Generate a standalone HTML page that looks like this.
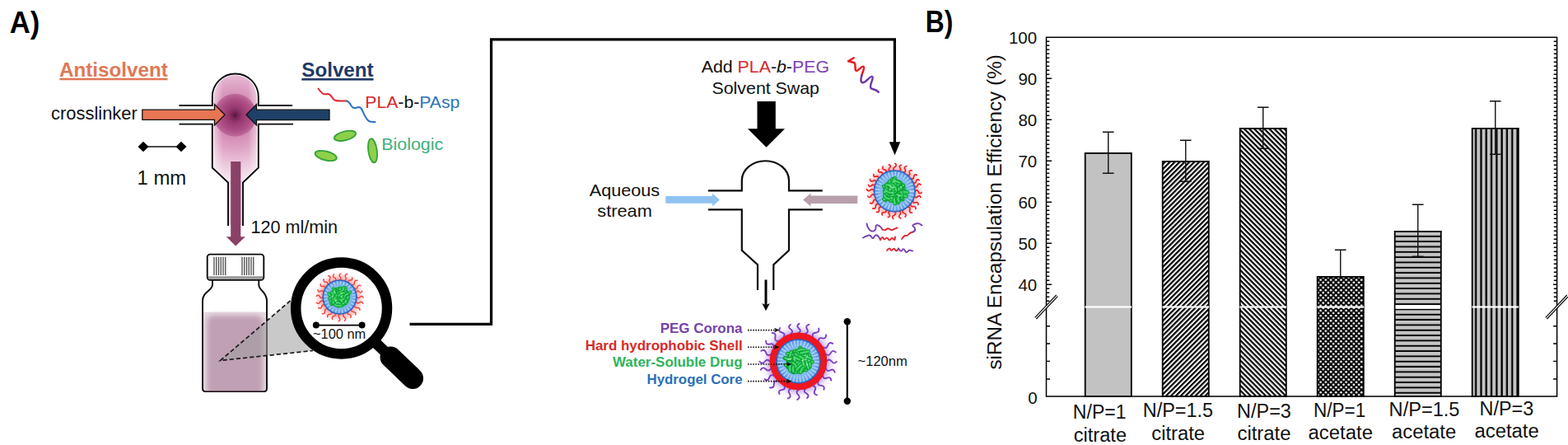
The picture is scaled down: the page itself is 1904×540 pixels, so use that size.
<!DOCTYPE html>
<html lang="en">
<head>
<meta charset="utf-8">
<title>Figure: sequential flash nanoprecipitation and siRNA encapsulation efficiency</title>
<style>
html,body{margin:0;padding:0;background:#fff;}
body{width:1904px;height:540px;overflow:hidden;font-family:"Liberation Sans", Arial, Helvetica, sans-serif;}
svg{display:block;font-family:"Liberation Sans", Arial, Helvetica, sans-serif;}
text{font-family:"Liberation Sans", Arial, Helvetica, sans-serif;}
</style>
</head>
<body>
<svg width="1904" height="540" viewBox="0 0 1904 540">
<defs>
<radialGradient id="gBlue" cx="50%" cy="50%" r="50%">
  <stop offset="0" stop-color="#92c6f5"/><stop offset="0.65" stop-color="#84b9f0"/><stop offset="1" stop-color="#5898e6"/>
</radialGradient>
<radialGradient id="gGlowRed" cx="50%" cy="50%" r="50%">
  <stop offset="0.7" stop-color="#ff8080" stop-opacity="0.7"/><stop offset="1" stop-color="#ffb0b0" stop-opacity="0"/>
</radialGradient>
<radialGradient id="gGlowPurple" cx="50%" cy="50%" r="50%">
  <stop offset="0.72" stop-color="#a070e0" stop-opacity="0.6"/><stop offset="0.88" stop-color="#c0a0f0" stop-opacity="0.12"/><stop offset="1" stop-color="#c0a0f0" stop-opacity="0"/>
</radialGradient>
<radialGradient id="gMixDark" cx="50%" cy="50%" r="50%">
  <stop offset="0" stop-color="#4a1433"/><stop offset="0.1" stop-color="#6e2150"/><stop offset="0.35" stop-color="#983870"/><stop offset="0.75" stop-color="#ae4f86"/><stop offset="1" stop-color="#bf6c9c"/>
</radialGradient>
<radialGradient id="gMixBody" gradientUnits="userSpaceOnUse" cx="285.4" cy="142" r="80">
  <stop offset="0" stop-color="#cf86b0"/><stop offset="0.33" stop-color="#d690b8"/><stop offset="0.5" stop-color="#dfa6c6"/><stop offset="0.72" stop-color="#ecc8dc"/><stop offset="1" stop-color="#f8ecf2"/>
</radialGradient>
<linearGradient id="gMixSide" x1="0" y1="0" x2="1" y2="0">
  <stop offset="0.06" stop-color="#fff" stop-opacity="0.5"/><stop offset="0.25" stop-color="#fff" stop-opacity="0"/><stop offset="0.75" stop-color="#fff" stop-opacity="0"/><stop offset="0.94" stop-color="#fff" stop-opacity="0.5"/>
</linearGradient>
<linearGradient id="gLiqH" x1="0" y1="0" x2="1" y2="0">
  <stop offset="0" stop-color="#fff" stop-opacity="0.75"/><stop offset="0.16" stop-color="#fff" stop-opacity="0"/><stop offset="0.84" stop-color="#fff" stop-opacity="0"/><stop offset="1" stop-color="#fff" stop-opacity="0.75"/>
</linearGradient>
<linearGradient id="gLiqV" x1="0" y1="0" x2="0" y2="1">
  <stop offset="0" stop-color="#fff" stop-opacity="0.7"/><stop offset="0.1" stop-color="#fff" stop-opacity="0"/><stop offset="0.88" stop-color="#fff" stop-opacity="0"/><stop offset="1" stop-color="#fff" stop-opacity="0.45"/>
</linearGradient>
<pattern id="hFwd" patternUnits="userSpaceOnUse" width="4.2" height="4.2" patternTransform="rotate(-45)">
  <rect width="4.2" height="4.2" fill="#fff"/><rect x="0" y="0" width="4.2" height="2.2" fill="#000"/>
</pattern>
<pattern id="hBack" patternUnits="userSpaceOnUse" width="4.3" height="4.3" patternTransform="rotate(45)">
  <rect width="4.3" height="4.3" fill="#fff"/><rect x="0" y="0" width="4.3" height="2.2" fill="#000"/>
</pattern>
<pattern id="hDots" patternUnits="userSpaceOnUse" width="6.2" height="6.2" patternTransform="translate(1599 335)">
  <rect width="6.2" height="6.2" fill="#000"/><circle cx="1.55" cy="1.55" r="1.4" fill="#fff"/><circle cx="4.65" cy="4.65" r="1.4" fill="#fff"/>
</pattern>
<pattern id="hHor" patternUnits="userSpaceOnUse" width="6.33" height="6.33" patternTransform="translate(0 281.4)">
  <rect width="6.33" height="6.33" fill="#c4c4c4"/><rect x="0" y="4.4" width="6.33" height="1.93" fill="#000"/>
</pattern>
<pattern id="hVer" patternUnits="userSpaceOnUse" width="6.3" height="6.3" patternTransform="translate(1787 0)">
  <rect width="6.3" height="6.3" fill="#c4c4c4"/><rect x="4.0" y="0" width="2.3" height="6.3" fill="#000"/>
</pattern>
</defs>
<rect x="0" y="0" width="1904" height="540" fill="#fff"/>
<text x="11.8" y="39.6" font-size="36" fill="#000" font-weight="bold" textLength="36.5" lengthAdjust="spacingAndGlyphs">A)</text>
<text x="1123.8" y="38.9" font-size="36" fill="#000" font-weight="bold" textLength="33.5" lengthAdjust="spacingAndGlyphs">B)</text>
<text x="72.0" y="93" font-size="24" fill="#e07856" font-weight="bold" textLength="131.8" lengthAdjust="spacingAndGlyphs">Antisolvent</text>
<rect x="72.3" y="94.7" width="131.2" height="2.6" fill="#e07856"/>
<text x="366.3" y="92.5" font-size="24" fill="#1f3a66" font-weight="bold" textLength="87.3" lengthAdjust="spacingAndGlyphs">Solvent</text>
<rect x="366.3" y="95" width="87.2" height="2.6" fill="#1f3a66"/>
<clipPath id="cpCh"><path d="M259.8,128 V117.5 A25.8,26.2 0 0 1 311.6,117.5 V203 L294,220 H278 L259.8,203 Z"/></clipPath>
<g clip-path="url(#cpCh)"><rect x="255" y="85" width="62" height="140" fill="url(#gMixBody)"/>
<rect x="255" y="85" width="62" height="140" fill="url(#gMixSide)"/>
<circle cx="285.4" cy="139.8" r="26" fill="url(#gMixDark)"/></g>
<path d="M217.5,128 H257.8 V117.5 A28,28 0 0 1 313.8,117.5 V128 H355" fill="none" stroke="#0a0a0a" stroke-width="1.9"/>
<path d="M217.5,150.6 H257.8 V203.5 L277,221.5 V274" fill="none" stroke="#0a0a0a" stroke-width="1.9"/>
<path d="M356,150.6 H313.8 V203.5 L295,221.5 V274" fill="none" stroke="#0a0a0a" stroke-width="1.9"/>
<path d="M172.8,133.2 H260.5 V126.5 L273,139.3 L260.5,152 V145.4 H172.8 Z" fill="#e87553" stroke="#111" stroke-width="1.3" stroke-linejoin="miter"/>
<path d="M400,133.2 H311.5 V126.5 L299,139.3 L311.5,152 V145.6 H400 Z" fill="#1f4068" stroke="#111" stroke-width="1.3" stroke-linejoin="miter"/>
<text x="62.0" y="144.5" font-size="21.5" fill="#111" textLength="104.8" lengthAdjust="spacingAndGlyphs">crosslinker</text>
<line x1="174" y1="178" x2="220" y2="178" stroke="#111" stroke-width="1.4"/>
<path d="M167.5,178 L174,171.8 L180.5,178 L174,184.2 Z" fill="#000"/>
<path d="M213.5,178 L220,171.8 L226.5,178 L220,184.2 Z" fill="#000"/>
<text x="166.5" y="223.8" font-size="23" fill="#111" textLength="59.8" lengthAdjust="spacingAndGlyphs">1 mm</text>
<rect x="278" y="219" width="16" height="54" fill="#eed6e2"/>
<path d="M280.2,196 H292.3 V287.3 H297.8 L286.2,298.5 L274.8,287.3 H280.2 Z" fill="#8a4167"/>
<text x="304.5" y="282.5" font-size="21.4" fill="#111" textLength="105.5" lengthAdjust="spacingAndGlyphs">120 ml/min</text>
<path d="M386.5,107.5 C389,111 391,114 394,114.3 C397,114.6 398,113.2 400.5,114.8 C403.5,116.8 403.5,120.5 407,121.8 C411,123.2 416,122.4 421,122.5" fill="none" stroke="#e0262e" stroke-width="2" stroke-linecap="round"/>
<path d="M421,122.5 C424,123 425,126 427,129 C429,132 431,131.5 433.5,130.5 C436.5,129.3 438.5,130.5 440,134 C442,138.5 444,144 447.5,146.6 C450,148.4 453,148 455.5,148" fill="none" stroke="#2a74c0" stroke-width="2" stroke-linecap="round"/>
<text x="443.3" y="130.8" font-size="21" textLength="115" lengthAdjust="spacingAndGlyphs"><tspan fill="#d9262c">PLA</tspan><tspan fill="#111">-b-</tspan><tspan fill="#2e75b6">PAsp</tspan></text>
<ellipse cx="419" cy="164.8" rx="13.4" ry="5.4" transform="rotate(-14 419 164.8)" fill="#8fd04a" stroke="#37a33b" stroke-width="1.9"/>
<ellipse cx="395.7" cy="189" rx="13.4" ry="5.4" transform="rotate(14 395.7 189)" fill="#8fd04a" stroke="#37a33b" stroke-width="1.9"/>
<ellipse cx="452.5" cy="182.8" rx="5.2" ry="14.6" transform="rotate(-8 452.5 182.8)" fill="#8fd04a" stroke="#37a33b" stroke-width="1.9"/>
<text x="463.3" y="181.8" font-size="21" fill="#3fb07c" textLength="74.8" lengthAdjust="spacingAndGlyphs">Biologic</text>
<filter id="fSoft" x="-20%" y="-20%" width="140%" height="140%"><feGaussianBlur stdDeviation="3.2"/></filter>
<clipPath id="cpBot"><rect x="247" y="365" width="76.2" height="109.6" rx="2"/></clipPath>
<g clip-path="url(#cpBot)"><rect x="247" y="378.6" width="76.2" height="97" fill="#e8dbe2"/><rect x="251" y="382.5" width="68.5" height="98" rx="8" fill="#c0a0b3" filter="url(#fSoft)"/></g>
<path d="M258,340 V345.5 C258,353 246,353.5 246,365 V471.5 Q246,475 249.5,475 H320.5 Q324,475 324,471.5 V365 C324,353.5 314.3,353 314.3,345.5 V340" fill="none" stroke="#0a0a0a" stroke-width="1.9"/>
<line x1="249" y1="474.6" x2="321" y2="474.6" stroke="#5a4450" stroke-width="1.2"/>
<rect x="251.7" y="308.6" width="68.6" height="31.2" rx="3.5" fill="#fff" stroke="#0a0a0a" stroke-width="1.9"/>
<rect x="253" y="335.2" width="66" height="3.4" fill="#9a9a9a"/>
<line x1="260.00" y1="311.8" x2="260.00" y2="334" stroke="#4a4a4a" stroke-width="1.3"/>
<line x1="294.00" y1="311.8" x2="294.00" y2="334" stroke="#4a4a4a" stroke-width="1.3"/>
<line x1="262.75" y1="311.8" x2="262.75" y2="334" stroke="#4a4a4a" stroke-width="1.3"/>
<line x1="296.75" y1="311.8" x2="296.75" y2="334" stroke="#4a4a4a" stroke-width="1.3"/>
<line x1="265.50" y1="311.8" x2="265.50" y2="334" stroke="#4a4a4a" stroke-width="1.3"/>
<line x1="299.50" y1="311.8" x2="299.50" y2="334" stroke="#4a4a4a" stroke-width="1.3"/>
<line x1="268.25" y1="311.8" x2="268.25" y2="334" stroke="#4a4a4a" stroke-width="1.3"/>
<line x1="302.25" y1="311.8" x2="302.25" y2="334" stroke="#4a4a4a" stroke-width="1.3"/>
<line x1="271.00" y1="311.8" x2="271.00" y2="334" stroke="#4a4a4a" stroke-width="1.3"/>
<line x1="305.00" y1="311.8" x2="305.00" y2="334" stroke="#4a4a4a" stroke-width="1.3"/>
<line x1="273.75" y1="311.8" x2="273.75" y2="334" stroke="#4a4a4a" stroke-width="1.3"/>
<line x1="307.75" y1="311.8" x2="307.75" y2="334" stroke="#4a4a4a" stroke-width="1.3"/>
<path d="M267.5,437.5 L352.5,365 L380,425.5 Z" fill="#9c9c9c" fill-opacity="0.55"/>
<path d="M352.5,365 L267.5,437.5 L380,425.5" fill="none" stroke="#1a1a1a" stroke-width="1.7" stroke-dasharray="5.2 3"/>
<circle cx="414.6" cy="374" r="55.4" fill="#fff" stroke="#000" stroke-width="12.5"/>
<line x1="453" y1="413" x2="474" y2="433" stroke="#000" stroke-width="13"/>
<line x1="474.5" y1="433.5" x2="501" y2="459" stroke="#000" stroke-width="26" stroke-linecap="round"/>
<g>
<circle cx="412.5" cy="360.5" r="30.5" fill="url(#gGlowRed)"/>
<path d="M433.00,360.29 Q434.87,363.02 437.09,360.56 Q439.31,358.10 441.18,360.84" fill="none" stroke="#f0453f" stroke-width="1.5" stroke-linecap="round"/>
<path d="M432.27,365.91 Q433.73,369.00 436.56,367.09 Q439.40,365.18 440.86,368.27" fill="none" stroke="#f0453f" stroke-width="1.5" stroke-linecap="round"/>
<path d="M430.35,370.58 Q430.31,373.98 433.67,373.45 Q437.03,372.92 436.98,376.32" fill="none" stroke="#f0453f" stroke-width="1.5" stroke-linecap="round"/>
<path d="M426.80,375.19 Q425.96,378.41 429.29,378.54 Q432.62,378.66 431.77,381.88" fill="none" stroke="#f0453f" stroke-width="1.5" stroke-linecap="round"/>
<path d="M422.65,378.31 Q421.02,381.11 424.17,381.87 Q427.32,382.62 425.69,385.42" fill="none" stroke="#f0453f" stroke-width="1.5" stroke-linecap="round"/>
<path d="M417.67,380.34 Q415.32,382.84 418.14,384.80 Q420.96,386.76 418.61,389.26" fill="none" stroke="#f0453f" stroke-width="1.5" stroke-linecap="round"/>
<path d="M412.66,381.00 Q409.73,382.81 411.93,385.46 Q414.14,388.11 411.20,389.92" fill="none" stroke="#f0453f" stroke-width="1.5" stroke-linecap="round"/>
<path d="M407.02,380.25 Q408.59,383.09 405.42,383.78 Q402.25,384.47 403.81,387.31" fill="none" stroke="#f0453f" stroke-width="1.5" stroke-linecap="round"/>
<path d="M402.32,378.30 Q403.32,381.40 400.06,381.49 Q396.81,381.58 397.80,384.68" fill="none" stroke="#f0453f" stroke-width="1.5" stroke-linecap="round"/>
<path d="M397.79,374.77 Q394.40,374.36 394.53,377.77 Q394.65,381.18 391.27,380.77" fill="none" stroke="#f0453f" stroke-width="1.5" stroke-linecap="round"/>
<path d="M394.56,370.42 Q391.65,368.77 390.65,371.96 Q389.65,375.15 386.75,373.50" fill="none" stroke="#f0453f" stroke-width="1.5" stroke-linecap="round"/>
<path d="M392.70,365.80 Q390.14,363.64 388.55,366.59 Q386.97,369.54 384.41,367.39" fill="none" stroke="#f0453f" stroke-width="1.5" stroke-linecap="round"/>
<path d="M392.00,360.43 Q389.70,362.71 388.19,359.84 Q386.69,356.98 384.38,359.25" fill="none" stroke="#f0453f" stroke-width="1.5" stroke-linecap="round"/>
<path d="M392.78,354.91 Q392.12,351.76 389.33,353.35 Q386.53,354.94 385.88,351.79" fill="none" stroke="#f0453f" stroke-width="1.5" stroke-linecap="round"/>
<path d="M394.90,349.99 Q395.23,346.78 392.06,347.42 Q388.89,348.05 389.23,344.84" fill="none" stroke="#f0453f" stroke-width="1.5" stroke-linecap="round"/>
<path d="M398.13,345.88 Q399.00,342.59 395.62,342.29 Q392.23,341.98 393.10,338.69" fill="none" stroke="#f0453f" stroke-width="1.5" stroke-linecap="round"/>
<path d="M402.10,342.84 Q398.87,341.66 400.50,338.63 Q402.13,335.61 398.90,334.43" fill="none" stroke="#f0453f" stroke-width="1.5" stroke-linecap="round"/>
<path d="M406.87,340.79 Q409.06,338.38 406.13,336.95 Q403.21,335.52 405.40,333.11" fill="none" stroke="#f0453f" stroke-width="1.5" stroke-linecap="round"/>
<path d="M412.33,340.00 Q415.24,338.51 413.04,336.09 Q410.84,333.67 413.75,332.18" fill="none" stroke="#f0453f" stroke-width="1.5" stroke-linecap="round"/>
<path d="M417.90,340.72 Q421.18,339.69 419.68,336.59 Q418.19,333.50 421.46,332.47" fill="none" stroke="#f0453f" stroke-width="1.5" stroke-linecap="round"/>
<path d="M423.02,342.90 Q422.10,339.82 425.31,339.90 Q428.53,339.97 427.61,336.89" fill="none" stroke="#f0453f" stroke-width="1.5" stroke-linecap="round"/>
<path d="M426.88,345.89 Q430.25,346.53 430.37,343.11 Q430.49,339.68 433.86,340.32" fill="none" stroke="#f0453f" stroke-width="1.5" stroke-linecap="round"/>
<path d="M430.13,350.04 Q433.10,351.58 434.00,348.35 Q434.89,345.13 437.86,346.67" fill="none" stroke="#f0453f" stroke-width="1.5" stroke-linecap="round"/>
<path d="M432.20,354.83 Q433.54,351.89 435.97,354.02 Q438.40,356.16 439.74,353.22" fill="none" stroke="#f0453f" stroke-width="1.5" stroke-linecap="round"/>
<circle cx="412.5" cy="360.5" r="20.4" fill="url(#gBlue)" stroke="#2b62c4" stroke-width="1.5"/>
<circle cx="412.5" cy="360.5" r="17.40" fill="none" stroke="#c4e2ff" stroke-width="4.00" stroke-dasharray="1.3 2.6" opacity="0.8"/>
<circle cx="412.5" cy="360.5" r="12.60" fill="#1fb846"/>
<path d="M417.48,352.77 Q417.00,356.49 418.39,359.98" fill="none" stroke="#0e9a38" stroke-width="3.75" stroke-linecap="round"/>
<path d="M417.48,352.77 Q417.00,356.49 418.39,359.98" fill="none" stroke="#2ad055" stroke-width="2.17" stroke-linecap="round"/>
<path d="M417.48,352.77 Q417.00,356.49 418.39,359.98" fill="none" stroke="#86e89c" stroke-width="0.60" stroke-linecap="round" opacity="0.8"/>
<path d="M407.27,351.72 Q405.60,355.79 404.03,359.89" fill="none" stroke="#0e9a38" stroke-width="3.75" stroke-linecap="round"/>
<path d="M407.27,351.72 Q405.60,355.79 404.03,359.89" fill="none" stroke="#2ad055" stroke-width="2.17" stroke-linecap="round"/>
<path d="M407.27,351.72 Q405.60,355.79 404.03,359.89" fill="none" stroke="#86e89c" stroke-width="0.60" stroke-linecap="round" opacity="0.8"/>
<path d="M401.57,362.25 Q402.05,366.49 406.33,366.65" fill="none" stroke="#0e9a38" stroke-width="3.75" stroke-linecap="round"/>
<path d="M401.57,362.25 Q402.05,366.49 406.33,366.65" fill="none" stroke="#2ad055" stroke-width="2.17" stroke-linecap="round"/>
<path d="M401.57,362.25 Q402.05,366.49 406.33,366.65" fill="none" stroke="#86e89c" stroke-width="0.60" stroke-linecap="round" opacity="0.8"/>
<path d="M400.91,359.29 Q404.33,359.91 407.80,359.54" fill="none" stroke="#0e9a38" stroke-width="3.75" stroke-linecap="round"/>
<path d="M400.91,359.29 Q404.33,359.91 407.80,359.54" fill="none" stroke="#2ad055" stroke-width="2.17" stroke-linecap="round"/>
<path d="M400.91,359.29 Q404.33,359.91 407.80,359.54" fill="none" stroke="#86e89c" stroke-width="0.60" stroke-linecap="round" opacity="0.8"/>
<path d="M422.27,359.03 Q420.55,361.33 420.01,364.16" fill="none" stroke="#0e9a38" stroke-width="3.75" stroke-linecap="round"/>
<path d="M422.27,359.03 Q420.55,361.33 420.01,364.16" fill="none" stroke="#2ad055" stroke-width="2.17" stroke-linecap="round"/>
<path d="M422.27,359.03 Q420.55,361.33 420.01,364.16" fill="none" stroke="#86e89c" stroke-width="0.60" stroke-linecap="round" opacity="0.8"/>
<path d="M401.78,358.87 Q402.03,363.19 405.33,365.98" fill="none" stroke="#0e9a38" stroke-width="3.75" stroke-linecap="round"/>
<path d="M401.78,358.87 Q402.03,363.19 405.33,365.98" fill="none" stroke="#2ad055" stroke-width="2.17" stroke-linecap="round"/>
<path d="M401.78,358.87 Q402.03,363.19 405.33,365.98" fill="none" stroke="#86e89c" stroke-width="0.60" stroke-linecap="round" opacity="0.8"/>
<path d="M417.53,357.11 Q416.90,361.92 412.88,364.65" fill="none" stroke="#0e9a38" stroke-width="3.75" stroke-linecap="round"/>
<path d="M417.53,357.11 Q416.90,361.92 412.88,364.65" fill="none" stroke="#2ad055" stroke-width="2.17" stroke-linecap="round"/>
<path d="M417.53,357.11 Q416.90,361.92 412.88,364.65" fill="none" stroke="#86e89c" stroke-width="0.60" stroke-linecap="round" opacity="0.8"/>
<path d="M402.48,359.98 Q405.23,362.21 406.07,365.65" fill="none" stroke="#0e9a38" stroke-width="3.75" stroke-linecap="round"/>
<path d="M402.48,359.98 Q405.23,362.21 406.07,365.65" fill="none" stroke="#2ad055" stroke-width="2.17" stroke-linecap="round"/>
<path d="M402.48,359.98 Q405.23,362.21 406.07,365.65" fill="none" stroke="#86e89c" stroke-width="0.60" stroke-linecap="round" opacity="0.8"/>
<path d="M404.69,364.04 Q405.33,367.75 408.65,369.51" fill="none" stroke="#0e9a38" stroke-width="3.75" stroke-linecap="round"/>
<path d="M404.69,364.04 Q405.33,367.75 408.65,369.51" fill="none" stroke="#2ad055" stroke-width="2.17" stroke-linecap="round"/>
<path d="M404.69,364.04 Q405.33,367.75 408.65,369.51" fill="none" stroke="#86e89c" stroke-width="0.60" stroke-linecap="round" opacity="0.8"/>
<path d="M422.95,359.50 Q421.96,363.01 418.56,364.32" fill="none" stroke="#0e9a38" stroke-width="3.75" stroke-linecap="round"/>
<path d="M422.95,359.50 Q421.96,363.01 418.56,364.32" fill="none" stroke="#2ad055" stroke-width="2.17" stroke-linecap="round"/>
<path d="M422.95,359.50 Q421.96,363.01 418.56,364.32" fill="none" stroke="#86e89c" stroke-width="0.60" stroke-linecap="round" opacity="0.8"/>
<path d="M411.40,353.45 Q413.61,356.42 417.20,357.32" fill="none" stroke="#0e9a38" stroke-width="3.75" stroke-linecap="round"/>
<path d="M411.40,353.45 Q413.61,356.42 417.20,357.32" fill="none" stroke="#2ad055" stroke-width="2.17" stroke-linecap="round"/>
<path d="M411.40,353.45 Q413.61,356.42 417.20,357.32" fill="none" stroke="#86e89c" stroke-width="0.60" stroke-linecap="round" opacity="0.8"/>
<path d="M415.46,360.62 Q417.96,364.03 419.65,367.90" fill="none" stroke="#0e9a38" stroke-width="3.75" stroke-linecap="round"/>
<path d="M415.46,360.62 Q417.96,364.03 419.65,367.90" fill="none" stroke="#2ad055" stroke-width="2.17" stroke-linecap="round"/>
<path d="M415.46,360.62 Q417.96,364.03 419.65,367.90" fill="none" stroke="#86e89c" stroke-width="0.60" stroke-linecap="round" opacity="0.8"/>
<path d="M413.41,353.53 Q412.97,358.22 417.21,360.27" fill="none" stroke="#0e9a38" stroke-width="3.75" stroke-linecap="round"/>
<path d="M413.41,353.53 Q412.97,358.22 417.21,360.27" fill="none" stroke="#2ad055" stroke-width="2.17" stroke-linecap="round"/>
<path d="M413.41,353.53 Q412.97,358.22 417.21,360.27" fill="none" stroke="#86e89c" stroke-width="0.60" stroke-linecap="round" opacity="0.8"/>
<path d="M404.09,360.74 Q408.24,360.20 410.87,363.45" fill="none" stroke="#0e9a38" stroke-width="3.75" stroke-linecap="round"/>
<path d="M404.09,360.74 Q408.24,360.20 410.87,363.45" fill="none" stroke="#2ad055" stroke-width="2.17" stroke-linecap="round"/>
<path d="M404.09,360.74 Q408.24,360.20 410.87,363.45" fill="none" stroke="#86e89c" stroke-width="0.60" stroke-linecap="round" opacity="0.8"/>
<path d="M413.37,349.23 Q415.08,352.46 418.73,352.72" fill="none" stroke="#0e9a38" stroke-width="3.75" stroke-linecap="round"/>
<path d="M413.37,349.23 Q415.08,352.46 418.73,352.72" fill="none" stroke="#2ad055" stroke-width="2.17" stroke-linecap="round"/>
<path d="M413.37,349.23 Q415.08,352.46 418.73,352.72" fill="none" stroke="#86e89c" stroke-width="0.60" stroke-linecap="round" opacity="0.8"/>
<path d="M404.87,350.15 Q407.21,352.23 407.61,355.34" fill="none" stroke="#0e9a38" stroke-width="3.75" stroke-linecap="round"/>
<path d="M404.87,350.15 Q407.21,352.23 407.61,355.34" fill="none" stroke="#2ad055" stroke-width="2.17" stroke-linecap="round"/>
<path d="M404.87,350.15 Q407.21,352.23 407.61,355.34" fill="none" stroke="#86e89c" stroke-width="0.60" stroke-linecap="round" opacity="0.8"/>
<path d="M412.47,351.88 Q414.51,354.71 415.67,357.99" fill="none" stroke="#0e9a38" stroke-width="3.75" stroke-linecap="round"/>
<path d="M412.47,351.88 Q414.51,354.71 415.67,357.99" fill="none" stroke="#2ad055" stroke-width="2.17" stroke-linecap="round"/>
<path d="M412.47,351.88 Q414.51,354.71 415.67,357.99" fill="none" stroke="#86e89c" stroke-width="0.60" stroke-linecap="round" opacity="0.8"/>
<path d="M401.14,364.96 Q402.51,368.14 405.91,367.51" fill="none" stroke="#0e9a38" stroke-width="3.75" stroke-linecap="round"/>
<path d="M401.14,364.96 Q402.51,368.14 405.91,367.51" fill="none" stroke="#2ad055" stroke-width="2.17" stroke-linecap="round"/>
<path d="M401.14,364.96 Q402.51,368.14 405.91,367.51" fill="none" stroke="#86e89c" stroke-width="0.60" stroke-linecap="round" opacity="0.8"/>
<path d="M419.63,348.63 Q417.22,353.65 421.44,357.27" fill="none" stroke="#0e9a38" stroke-width="3.75" stroke-linecap="round"/>
<path d="M419.63,348.63 Q417.22,353.65 421.44,357.27" fill="none" stroke="#2ad055" stroke-width="2.17" stroke-linecap="round"/>
<path d="M419.63,348.63 Q417.22,353.65 421.44,357.27" fill="none" stroke="#86e89c" stroke-width="0.60" stroke-linecap="round" opacity="0.8"/>
<path d="M417.56,368.03 Q414.11,369.82 410.78,371.85" fill="none" stroke="#0e9a38" stroke-width="3.75" stroke-linecap="round"/>
<path d="M417.56,368.03 Q414.11,369.82 410.78,371.85" fill="none" stroke="#2ad055" stroke-width="2.17" stroke-linecap="round"/>
<path d="M417.56,368.03 Q414.11,369.82 410.78,371.85" fill="none" stroke="#86e89c" stroke-width="0.60" stroke-linecap="round" opacity="0.8"/>
<path d="M408.79,364.94 Q410.63,367.13 413.06,368.64" fill="none" stroke="#0e9a38" stroke-width="3.75" stroke-linecap="round"/>
<path d="M408.79,364.94 Q410.63,367.13 413.06,368.64" fill="none" stroke="#2ad055" stroke-width="2.17" stroke-linecap="round"/>
<path d="M408.79,364.94 Q410.63,367.13 413.06,368.64" fill="none" stroke="#86e89c" stroke-width="0.60" stroke-linecap="round" opacity="0.8"/>
<path d="M405.91,369.61 Q409.98,371.72 414.48,370.83" fill="none" stroke="#0e9a38" stroke-width="3.75" stroke-linecap="round"/>
<path d="M405.91,369.61 Q409.98,371.72 414.48,370.83" fill="none" stroke="#2ad055" stroke-width="2.17" stroke-linecap="round"/>
<path d="M405.91,369.61 Q409.98,371.72 414.48,370.83" fill="none" stroke="#86e89c" stroke-width="0.60" stroke-linecap="round" opacity="0.8"/>
<path d="M425.38,354.50 Q422.85,358.78 418.28,356.82" fill="none" stroke="#0e9a38" stroke-width="3.75" stroke-linecap="round"/>
<path d="M425.38,354.50 Q422.85,358.78 418.28,356.82" fill="none" stroke="#2ad055" stroke-width="2.17" stroke-linecap="round"/>
<path d="M425.38,354.50 Q422.85,358.78 418.28,356.82" fill="none" stroke="#86e89c" stroke-width="0.60" stroke-linecap="round" opacity="0.8"/>
<path d="M410.07,352.75 Q412.22,356.00 414.65,359.05" fill="none" stroke="#0e9a38" stroke-width="3.75" stroke-linecap="round"/>
<path d="M410.07,352.75 Q412.22,356.00 414.65,359.05" fill="none" stroke="#2ad055" stroke-width="2.17" stroke-linecap="round"/>
<path d="M410.07,352.75 Q412.22,356.00 414.65,359.05" fill="none" stroke="#86e89c" stroke-width="0.60" stroke-linecap="round" opacity="0.8"/>
<path d="M404.43,362.94 Q404.67,366.56 402.14,369.16" fill="none" stroke="#0e9a38" stroke-width="3.75" stroke-linecap="round"/>
<path d="M404.43,362.94 Q404.67,366.56 402.14,369.16" fill="none" stroke="#2ad055" stroke-width="2.17" stroke-linecap="round"/>
<path d="M404.43,362.94 Q404.67,366.56 402.14,369.16" fill="none" stroke="#86e89c" stroke-width="0.60" stroke-linecap="round" opacity="0.8"/>
<path d="M420.03,352.54 Q418.60,356.05 414.87,356.75" fill="none" stroke="#0e9a38" stroke-width="3.75" stroke-linecap="round"/>
<path d="M420.03,352.54 Q418.60,356.05 414.87,356.75" fill="none" stroke="#2ad055" stroke-width="2.17" stroke-linecap="round"/>
<path d="M420.03,352.54 Q418.60,356.05 414.87,356.75" fill="none" stroke="#86e89c" stroke-width="0.60" stroke-linecap="round" opacity="0.8"/>
<path d="M399.16,356.22 Q401.10,361.02 406.25,360.45" fill="none" stroke="#0e9a38" stroke-width="3.75" stroke-linecap="round"/>
<path d="M399.16,356.22 Q401.10,361.02 406.25,360.45" fill="none" stroke="#2ad055" stroke-width="2.17" stroke-linecap="round"/>
<path d="M399.16,356.22 Q401.10,361.02 406.25,360.45" fill="none" stroke="#86e89c" stroke-width="0.60" stroke-linecap="round" opacity="0.8"/>
<path d="M412.14,350.96 Q415.92,353.55 419.81,351.14" fill="none" stroke="#0e9a38" stroke-width="3.75" stroke-linecap="round"/>
<path d="M412.14,350.96 Q415.92,353.55 419.81,351.14" fill="none" stroke="#2ad055" stroke-width="2.17" stroke-linecap="round"/>
<path d="M412.14,350.96 Q415.92,353.55 419.81,351.14" fill="none" stroke="#86e89c" stroke-width="0.60" stroke-linecap="round" opacity="0.8"/>
<path d="M415.58,359.56 Q418.38,361.95 420.43,365.01" fill="none" stroke="#0e9a38" stroke-width="3.75" stroke-linecap="round"/>
<path d="M415.58,359.56 Q418.38,361.95 420.43,365.01" fill="none" stroke="#2ad055" stroke-width="2.17" stroke-linecap="round"/>
<path d="M415.58,359.56 Q418.38,361.95 420.43,365.01" fill="none" stroke="#86e89c" stroke-width="0.60" stroke-linecap="round" opacity="0.8"/>
<path d="M400.06,362.14 Q402.87,360.28 405.66,362.17" fill="none" stroke="#0e9a38" stroke-width="3.75" stroke-linecap="round"/>
<path d="M400.06,362.14 Q402.87,360.28 405.66,362.17" fill="none" stroke="#2ad055" stroke-width="2.17" stroke-linecap="round"/>
<path d="M400.06,362.14 Q402.87,360.28 405.66,362.17" fill="none" stroke="#86e89c" stroke-width="0.60" stroke-linecap="round" opacity="0.8"/>
<path d="M418.78,362.21 Q414.81,365.70 410.33,362.88" fill="none" stroke="#0e9a38" stroke-width="3.75" stroke-linecap="round"/>
<path d="M418.78,362.21 Q414.81,365.70 410.33,362.88" fill="none" stroke="#2ad055" stroke-width="2.17" stroke-linecap="round"/>
<path d="M418.78,362.21 Q414.81,365.70 410.33,362.88" fill="none" stroke="#86e89c" stroke-width="0.60" stroke-linecap="round" opacity="0.8"/>
<path d="M404.43,357.63 Q405.53,360.90 408.10,363.20" fill="none" stroke="#0e9a38" stroke-width="3.75" stroke-linecap="round"/>
<path d="M404.43,357.63 Q405.53,360.90 408.10,363.20" fill="none" stroke="#2ad055" stroke-width="2.17" stroke-linecap="round"/>
<path d="M404.43,357.63 Q405.53,360.90 408.10,363.20" fill="none" stroke="#86e89c" stroke-width="0.60" stroke-linecap="round" opacity="0.8"/>
<path d="M404.08,355.19 Q408.05,355.21 409.51,358.91" fill="none" stroke="#0e9a38" stroke-width="3.75" stroke-linecap="round"/>
<path d="M404.08,355.19 Q408.05,355.21 409.51,358.91" fill="none" stroke="#2ad055" stroke-width="2.17" stroke-linecap="round"/>
<path d="M404.08,355.19 Q408.05,355.21 409.51,358.91" fill="none" stroke="#86e89c" stroke-width="0.60" stroke-linecap="round" opacity="0.8"/>
<path d="M402.63,354.64 Q405.20,356.68 404.72,359.93" fill="none" stroke="#0e9a38" stroke-width="3.75" stroke-linecap="round"/>
<path d="M402.63,354.64 Q405.20,356.68 404.72,359.93" fill="none" stroke="#2ad055" stroke-width="2.17" stroke-linecap="round"/>
<path d="M402.63,354.64 Q405.20,356.68 404.72,359.93" fill="none" stroke="#86e89c" stroke-width="0.60" stroke-linecap="round" opacity="0.8"/>
<path d="M409.09,364.53 Q405.31,365.24 403.84,368.80" fill="none" stroke="#0e9a38" stroke-width="3.75" stroke-linecap="round"/>
<path d="M409.09,364.53 Q405.31,365.24 403.84,368.80" fill="none" stroke="#2ad055" stroke-width="2.17" stroke-linecap="round"/>
<path d="M409.09,364.53 Q405.31,365.24 403.84,368.80" fill="none" stroke="#86e89c" stroke-width="0.60" stroke-linecap="round" opacity="0.8"/>
<path d="M405.88,352.10 Q406.07,355.92 408.68,358.72" fill="none" stroke="#0e9a38" stroke-width="3.75" stroke-linecap="round"/>
<path d="M405.88,352.10 Q406.07,355.92 408.68,358.72" fill="none" stroke="#2ad055" stroke-width="2.17" stroke-linecap="round"/>
<path d="M405.88,352.10 Q406.07,355.92 408.68,358.72" fill="none" stroke="#86e89c" stroke-width="0.60" stroke-linecap="round" opacity="0.8"/>
<path d="M404.00,361.81 Q404.18,364.95 404.77,368.05" fill="none" stroke="#0e9a38" stroke-width="3.75" stroke-linecap="round"/>
<path d="M404.00,361.81 Q404.18,364.95 404.77,368.05" fill="none" stroke="#2ad055" stroke-width="2.17" stroke-linecap="round"/>
<path d="M404.00,361.81 Q404.18,364.95 404.77,368.05" fill="none" stroke="#86e89c" stroke-width="0.60" stroke-linecap="round" opacity="0.8"/>
<path d="M410.69,354.33 Q409.19,358.26 412.31,361.08" fill="none" stroke="#0e9a38" stroke-width="3.75" stroke-linecap="round"/>
<path d="M410.69,354.33 Q409.19,358.26 412.31,361.08" fill="none" stroke="#2ad055" stroke-width="2.17" stroke-linecap="round"/>
<path d="M410.69,354.33 Q409.19,358.26 412.31,361.08" fill="none" stroke="#86e89c" stroke-width="0.60" stroke-linecap="round" opacity="0.8"/>
<path d="M422.67,356.56 Q419.31,359.54 414.84,359.16" fill="none" stroke="#0e9a38" stroke-width="3.75" stroke-linecap="round"/>
<path d="M422.67,356.56 Q419.31,359.54 414.84,359.16" fill="none" stroke="#2ad055" stroke-width="2.17" stroke-linecap="round"/>
<path d="M422.67,356.56 Q419.31,359.54 414.84,359.16" fill="none" stroke="#86e89c" stroke-width="0.60" stroke-linecap="round" opacity="0.8"/>
<path d="M411.94,359.22 Q407.20,359.11 405.46,363.53" fill="none" stroke="#0e9a38" stroke-width="3.75" stroke-linecap="round"/>
<path d="M411.94,359.22 Q407.20,359.11 405.46,363.53" fill="none" stroke="#2ad055" stroke-width="2.17" stroke-linecap="round"/>
<path d="M411.94,359.22 Q407.20,359.11 405.46,363.53" fill="none" stroke="#86e89c" stroke-width="0.60" stroke-linecap="round" opacity="0.8"/>
<path d="M417.38,348.99 Q416.86,353.53 412.40,354.51" fill="none" stroke="#0e9a38" stroke-width="3.75" stroke-linecap="round"/>
<path d="M417.38,348.99 Q416.86,353.53 412.40,354.51" fill="none" stroke="#2ad055" stroke-width="2.17" stroke-linecap="round"/>
<path d="M417.38,348.99 Q416.86,353.53 412.40,354.51" fill="none" stroke="#86e89c" stroke-width="0.60" stroke-linecap="round" opacity="0.8"/>
<path d="M408.15,358.31 Q413.30,357.07 415.52,361.88" fill="none" stroke="#0e9a38" stroke-width="3.75" stroke-linecap="round"/>
<path d="M408.15,358.31 Q413.30,357.07 415.52,361.88" fill="none" stroke="#2ad055" stroke-width="2.17" stroke-linecap="round"/>
<path d="M408.15,358.31 Q413.30,357.07 415.52,361.88" fill="none" stroke="#86e89c" stroke-width="0.60" stroke-linecap="round" opacity="0.8"/>
<path d="M418.24,361.30 Q416.38,364.82 412.62,363.52" fill="none" stroke="#0e9a38" stroke-width="3.75" stroke-linecap="round"/>
<path d="M418.24,361.30 Q416.38,364.82 412.62,363.52" fill="none" stroke="#2ad055" stroke-width="2.17" stroke-linecap="round"/>
<path d="M418.24,361.30 Q416.38,364.82 412.62,363.52" fill="none" stroke="#86e89c" stroke-width="0.60" stroke-linecap="round" opacity="0.8"/>
<path d="M418.05,355.41 Q413.49,355.17 411.15,359.10" fill="none" stroke="#0e9a38" stroke-width="3.75" stroke-linecap="round"/>
<path d="M418.05,355.41 Q413.49,355.17 411.15,359.10" fill="none" stroke="#2ad055" stroke-width="2.17" stroke-linecap="round"/>
<path d="M418.05,355.41 Q413.49,355.17 411.15,359.10" fill="none" stroke="#86e89c" stroke-width="0.60" stroke-linecap="round" opacity="0.8"/>
<path d="M422.80,356.38 Q419.79,356.94 418.34,359.65" fill="none" stroke="#0e9a38" stroke-width="3.75" stroke-linecap="round"/>
<path d="M422.80,356.38 Q419.79,356.94 418.34,359.65" fill="none" stroke="#2ad055" stroke-width="2.17" stroke-linecap="round"/>
<path d="M422.80,356.38 Q419.79,356.94 418.34,359.65" fill="none" stroke="#86e89c" stroke-width="0.60" stroke-linecap="round" opacity="0.8"/>
<circle cx="403.64" cy="359.87" r="0.90" fill="#a8f0b4" opacity="0.85"/>
<circle cx="419.62" cy="366.15" r="0.90" fill="#a8f0b4" opacity="0.85"/>
<circle cx="414.88" cy="359.46" r="0.90" fill="#a8f0b4" opacity="0.85"/>
<circle cx="408.95" cy="367.54" r="0.90" fill="#a8f0b4" opacity="0.85"/>
<circle cx="414.93" cy="355.94" r="0.90" fill="#a8f0b4" opacity="0.85"/>
<circle cx="414.74" cy="365.25" r="0.90" fill="#a8f0b4" opacity="0.85"/>
<circle cx="405.70" cy="354.43" r="0.90" fill="#a8f0b4" opacity="0.85"/>
<circle cx="407.50" cy="364.44" r="0.90" fill="#a8f0b4" opacity="0.85"/>
<circle cx="407.55" cy="364.26" r="0.90" fill="#a8f0b4" opacity="0.85"/>
</g>
<line x1="384" y1="394.6" x2="439.5" y2="394.6" stroke="#000" stroke-width="1.6"/>
<circle cx="383.8" cy="394.6" r="4" fill="#000"/><circle cx="439.6" cy="394.6" r="4" fill="#000"/>
<text x="380.0" y="410.5" font-size="16" fill="#111" textLength="64.2" lengthAdjust="spacingAndGlyphs">~100 nm</text>
<path d="M497.5,393.4 H596.5 V47.8 H1086.4 V174" fill="none" stroke="#000" stroke-width="3.2" stroke-linejoin="miter"/>
<path d="M1079.8,172.2 H1093.2 L1086.5,188.3 Z" fill="#000"/>
<text x="851.8" y="87.5" font-size="21" textLength="155.2" lengthAdjust="spacingAndGlyphs"><tspan fill="#111">Add </tspan><tspan fill="#d9262c">PLA</tspan><tspan fill="#111">-</tspan><tspan fill="#111" font-style="italic">b</tspan><tspan fill="#111">-</tspan><tspan fill="#7a3fb0">PEG</tspan></text>
<text x="864.5" y="113.8" font-size="21" fill="#111" textLength="130.5" lengthAdjust="spacingAndGlyphs">Solvent Swap</text>
<path d="M1036.7,70.2 L1030,74.3 L1037,76 C1040.2,77.5 1037,85.2 1039.8,85.9 C1042.6,86.6 1046,79.4 1048.5,80.8 C1050.6,82 1047,88 1046.4,91.5" fill="none" stroke="#e81c1c" stroke-width="2.5" stroke-linecap="round" stroke-linejoin="round"/>
<path d="M1046.4,91.5 C1045.5,95 1044.3,99.6 1047.5,100.3 C1051,101.1 1056.5,91.5 1059.3,93 C1061.6,94.3 1055,104 1057.5,106.8 C1059.5,109 1064,108 1066.7,111.7" fill="none" stroke="#7038a8" stroke-width="2.5" stroke-linecap="round" stroke-linejoin="round"/>
<path d="M919.5,123 H941.8 V156.3 H953 L930.5,178.8 L908,156.3 H919.5 Z" fill="#000"/>
<path d="M860,231.3 H900.8 V219 A28.6,23.8 0 0 1 958,219 V231.3 H998.8" fill="none" stroke="#0a0a0a" stroke-width="2.2"/>
<path d="M860,254.3 H900.8 V303.8 L920,321.3 V352" fill="none" stroke="#0a0a0a" stroke-width="2.2"/>
<path d="M998.8,254.3 H958 V303.8 L939.3,321.3 V352" fill="none" stroke="#0a0a0a" stroke-width="2.2"/>
<text x="715.8" y="237.5" font-size="21" fill="#111" textLength="85.3" lengthAdjust="spacingAndGlyphs">Aqueous</text>
<text x="725.3" y="263" font-size="21" fill="#111" textLength="66.5" lengthAdjust="spacingAndGlyphs">stream</text>
<path d="M808.3,238 H865 V234.5 L873.8,242.5 L865,250.5 V246.8 H808.3 Z" fill="#8fc3f2"/>
<path d="M1041.3,237.6 H984.5 V234.5 L975,242.5 L984.5,250.5 V247 H1041.3 Z" fill="#b89fab"/>
<line x1="930" y1="339.5" x2="930" y2="370" stroke="#000" stroke-width="3"/>
<path d="M925.3,368 L930,370.3 L934.8,368 L930,377.3 Z" fill="#000"/>
<g>
<circle cx="1086.3" cy="231.9" r="35" fill="url(#gGlowRed)"/>
<path d="M1111.20,232.02 Q1113.78,229.48 1115.17,232.83 Q1116.56,236.17 1119.14,233.63" fill="none" stroke="#ea2222" stroke-width="1.7" stroke-linecap="round"/>
<path d="M1110.52,237.67 Q1111.68,241.05 1114.27,238.60 Q1116.86,236.14 1118.01,239.52" fill="none" stroke="#ea2222" stroke-width="1.7" stroke-linecap="round"/>
<path d="M1108.54,243.10 Q1108.25,246.73 1111.75,245.71 Q1115.24,244.69 1114.95,248.33" fill="none" stroke="#ea2222" stroke-width="1.7" stroke-linecap="round"/>
<path d="M1105.79,247.40 Q1105.17,251.07 1108.85,250.54 Q1112.53,250.02 1111.92,253.68" fill="none" stroke="#ea2222" stroke-width="1.7" stroke-linecap="round"/>
<path d="M1102.20,251.06 Q1105.92,251.08 1104.78,254.62 Q1103.65,258.16 1107.37,258.17" fill="none" stroke="#ea2222" stroke-width="1.7" stroke-linecap="round"/>
<path d="M1096.86,254.45 Q1094.53,257.38 1098.01,258.78 Q1101.48,260.19 1099.15,263.12" fill="none" stroke="#ea2222" stroke-width="1.7" stroke-linecap="round"/>
<path d="M1091.73,256.20 Q1095.14,257.72 1092.70,260.55 Q1090.25,263.38 1093.66,264.90" fill="none" stroke="#ea2222" stroke-width="1.7" stroke-linecap="round"/>
<path d="M1086.59,256.80 Q1089.05,259.62 1085.65,261.17 Q1082.24,262.72 1084.71,265.54" fill="none" stroke="#ea2222" stroke-width="1.7" stroke-linecap="round"/>
<path d="M1080.96,256.22 Q1077.48,256.99 1079.63,259.84 Q1081.78,262.69 1078.30,263.46" fill="none" stroke="#ea2222" stroke-width="1.7" stroke-linecap="round"/>
<path d="M1075.76,254.46 Q1077.10,257.77 1073.53,257.64 Q1069.96,257.52 1071.30,260.83" fill="none" stroke="#ea2222" stroke-width="1.7" stroke-linecap="round"/>
<path d="M1070.47,251.12 Q1066.81,250.58 1067.44,254.23 Q1068.08,257.87 1064.41,257.33" fill="none" stroke="#ea2222" stroke-width="1.7" stroke-linecap="round"/>
<path d="M1067.05,247.70 Q1063.48,246.57 1063.38,250.32 Q1063.29,254.07 1059.71,252.93" fill="none" stroke="#ea2222" stroke-width="1.7" stroke-linecap="round"/>
<path d="M1064.08,243.15 Q1061.08,241.13 1060.33,244.67 Q1059.58,248.21 1056.58,246.20" fill="none" stroke="#ea2222" stroke-width="1.7" stroke-linecap="round"/>
<path d="M1061.96,237.13 Q1059.47,234.44 1057.80,237.70 Q1056.13,240.96 1053.64,238.27" fill="none" stroke="#ea2222" stroke-width="1.7" stroke-linecap="round"/>
<path d="M1061.40,231.70 Q1059.84,228.26 1056.93,230.67 Q1054.02,233.08 1052.46,229.64" fill="none" stroke="#ea2222" stroke-width="1.7" stroke-linecap="round"/>
<path d="M1062.08,226.12 Q1060.89,222.74 1058.28,225.19 Q1055.66,227.64 1054.47,224.26" fill="none" stroke="#ea2222" stroke-width="1.7" stroke-linecap="round"/>
<path d="M1063.81,221.22 Q1063.24,217.62 1060.09,219.44 Q1056.94,221.26 1056.38,217.67" fill="none" stroke="#ea2222" stroke-width="1.7" stroke-linecap="round"/>
<path d="M1066.64,216.62 Q1067.14,213.10 1063.73,214.12 Q1060.32,215.14 1060.82,211.62" fill="none" stroke="#ea2222" stroke-width="1.7" stroke-linecap="round"/>
<path d="M1071.11,212.17 Q1072.60,208.93 1069.04,208.92 Q1065.47,208.91 1066.96,205.67" fill="none" stroke="#ea2222" stroke-width="1.7" stroke-linecap="round"/>
<path d="M1075.52,209.46 Q1077.45,206.42 1073.90,205.83 Q1070.35,205.25 1072.27,202.21" fill="none" stroke="#ea2222" stroke-width="1.7" stroke-linecap="round"/>
<path d="M1081.05,207.56 Q1077.72,206.25 1080.26,203.74 Q1082.80,201.22 1079.47,199.91" fill="none" stroke="#ea2222" stroke-width="1.7" stroke-linecap="round"/>
<path d="M1085.89,207.00 Q1083.19,204.48 1086.44,202.71 Q1089.68,200.94 1086.98,198.42" fill="none" stroke="#ea2222" stroke-width="1.7" stroke-linecap="round"/>
<path d="M1091.69,207.59 Q1095.17,206.81 1093.04,203.95 Q1090.90,201.08 1094.39,200.31" fill="none" stroke="#ea2222" stroke-width="1.7" stroke-linecap="round"/>
<path d="M1096.94,209.39 Q1100.61,208.74 1098.90,205.43 Q1097.19,202.12 1100.86,201.47" fill="none" stroke="#ea2222" stroke-width="1.7" stroke-linecap="round"/>
<path d="M1101.97,212.55 Q1105.48,213.11 1104.49,209.70 Q1103.49,206.28 1107.00,206.84" fill="none" stroke="#ea2222" stroke-width="1.7" stroke-linecap="round"/>
<path d="M1106.07,216.76 Q1109.42,218.20 1109.60,214.56 Q1109.79,210.91 1113.14,212.36" fill="none" stroke="#ea2222" stroke-width="1.7" stroke-linecap="round"/>
<path d="M1108.77,221.18 Q1111.62,223.37 1112.51,219.90 Q1113.40,216.42 1116.24,218.61" fill="none" stroke="#ea2222" stroke-width="1.7" stroke-linecap="round"/>
<path d="M1110.47,225.93 Q1113.05,228.40 1114.23,225.03 Q1115.41,221.67 1117.99,224.14" fill="none" stroke="#ea2222" stroke-width="1.7" stroke-linecap="round"/>
<circle cx="1086.3" cy="231.9" r="24.799999999999997" fill="url(#gBlue)" stroke="#2b62c4" stroke-width="1.5"/>
<circle cx="1086.3" cy="231.9" r="20.75" fill="none" stroke="#c4e2ff" stroke-width="6.10" stroke-dasharray="1.3 2.6" opacity="0.8"/>
<circle cx="1086.3" cy="231.9" r="14.53" fill="#1fb846"/>
<path d="M1092.12,224.17 Q1087.85,227.18 1085.36,231.77" fill="none" stroke="#0e9a38" stroke-width="4.33" stroke-linecap="round"/>
<path d="M1092.12,224.17 Q1087.85,227.18 1085.36,231.77" fill="none" stroke="#2ad055" stroke-width="2.51" stroke-linecap="round"/>
<path d="M1092.12,224.17 Q1087.85,227.18 1085.36,231.77" fill="none" stroke="#86e89c" stroke-width="0.69" stroke-linecap="round" opacity="0.8"/>
<path d="M1086.59,224.49 Q1085.21,228.27 1087.99,231.19" fill="none" stroke="#0e9a38" stroke-width="4.33" stroke-linecap="round"/>
<path d="M1086.59,224.49 Q1085.21,228.27 1087.99,231.19" fill="none" stroke="#2ad055" stroke-width="2.51" stroke-linecap="round"/>
<path d="M1086.59,224.49 Q1085.21,228.27 1087.99,231.19" fill="none" stroke="#86e89c" stroke-width="0.69" stroke-linecap="round" opacity="0.8"/>
<path d="M1088.79,240.17 Q1083.90,235.99 1079.02,240.19" fill="none" stroke="#0e9a38" stroke-width="4.33" stroke-linecap="round"/>
<path d="M1088.79,240.17 Q1083.90,235.99 1079.02,240.19" fill="none" stroke="#2ad055" stroke-width="2.51" stroke-linecap="round"/>
<path d="M1088.79,240.17 Q1083.90,235.99 1079.02,240.19" fill="none" stroke="#86e89c" stroke-width="0.69" stroke-linecap="round" opacity="0.8"/>
<path d="M1080.45,231.39 Q1078.89,235.49 1075.02,237.56" fill="none" stroke="#0e9a38" stroke-width="4.33" stroke-linecap="round"/>
<path d="M1080.45,231.39 Q1078.89,235.49 1075.02,237.56" fill="none" stroke="#2ad055" stroke-width="2.51" stroke-linecap="round"/>
<path d="M1080.45,231.39 Q1078.89,235.49 1075.02,237.56" fill="none" stroke="#86e89c" stroke-width="0.69" stroke-linecap="round" opacity="0.8"/>
<path d="M1080.32,229.90 Q1078.31,236.30 1084.22,239.47" fill="none" stroke="#0e9a38" stroke-width="4.33" stroke-linecap="round"/>
<path d="M1080.32,229.90 Q1078.31,236.30 1084.22,239.47" fill="none" stroke="#2ad055" stroke-width="2.51" stroke-linecap="round"/>
<path d="M1080.32,229.90 Q1078.31,236.30 1084.22,239.47" fill="none" stroke="#86e89c" stroke-width="0.69" stroke-linecap="round" opacity="0.8"/>
<path d="M1078.38,222.54 Q1081.16,224.77 1081.59,228.31" fill="none" stroke="#0e9a38" stroke-width="4.33" stroke-linecap="round"/>
<path d="M1078.38,222.54 Q1081.16,224.77 1081.59,228.31" fill="none" stroke="#2ad055" stroke-width="2.51" stroke-linecap="round"/>
<path d="M1078.38,222.54 Q1081.16,224.77 1081.59,228.31" fill="none" stroke="#86e89c" stroke-width="0.69" stroke-linecap="round" opacity="0.8"/>
<path d="M1086.68,215.92 Q1086.55,221.21 1090.69,224.52" fill="none" stroke="#0e9a38" stroke-width="4.33" stroke-linecap="round"/>
<path d="M1086.68,215.92 Q1086.55,221.21 1090.69,224.52" fill="none" stroke="#2ad055" stroke-width="2.51" stroke-linecap="round"/>
<path d="M1086.68,215.92 Q1086.55,221.21 1090.69,224.52" fill="none" stroke="#86e89c" stroke-width="0.69" stroke-linecap="round" opacity="0.8"/>
<path d="M1085.56,219.44 Q1081.77,221.06 1079.92,224.75" fill="none" stroke="#0e9a38" stroke-width="4.33" stroke-linecap="round"/>
<path d="M1085.56,219.44 Q1081.77,221.06 1079.92,224.75" fill="none" stroke="#2ad055" stroke-width="2.51" stroke-linecap="round"/>
<path d="M1085.56,219.44 Q1081.77,221.06 1079.92,224.75" fill="none" stroke="#86e89c" stroke-width="0.69" stroke-linecap="round" opacity="0.8"/>
<path d="M1087.99,237.64 Q1085.70,241.92 1081.17,243.67" fill="none" stroke="#0e9a38" stroke-width="4.33" stroke-linecap="round"/>
<path d="M1087.99,237.64 Q1085.70,241.92 1081.17,243.67" fill="none" stroke="#2ad055" stroke-width="2.51" stroke-linecap="round"/>
<path d="M1087.99,237.64 Q1085.70,241.92 1081.17,243.67" fill="none" stroke="#86e89c" stroke-width="0.69" stroke-linecap="round" opacity="0.8"/>
<path d="M1096.81,225.40 Q1095.76,228.37 1095.23,231.48" fill="none" stroke="#0e9a38" stroke-width="4.33" stroke-linecap="round"/>
<path d="M1096.81,225.40 Q1095.76,228.37 1095.23,231.48" fill="none" stroke="#2ad055" stroke-width="2.51" stroke-linecap="round"/>
<path d="M1096.81,225.40 Q1095.76,228.37 1095.23,231.48" fill="none" stroke="#86e89c" stroke-width="0.69" stroke-linecap="round" opacity="0.8"/>
<path d="M1085.70,237.61 Q1084.99,242.54 1086.81,247.17" fill="none" stroke="#0e9a38" stroke-width="4.33" stroke-linecap="round"/>
<path d="M1085.70,237.61 Q1084.99,242.54 1086.81,247.17" fill="none" stroke="#2ad055" stroke-width="2.51" stroke-linecap="round"/>
<path d="M1085.70,237.61 Q1084.99,242.54 1086.81,247.17" fill="none" stroke="#86e89c" stroke-width="0.69" stroke-linecap="round" opacity="0.8"/>
<path d="M1090.56,220.51 Q1086.06,223.48 1086.49,228.86" fill="none" stroke="#0e9a38" stroke-width="4.33" stroke-linecap="round"/>
<path d="M1090.56,220.51 Q1086.06,223.48 1086.49,228.86" fill="none" stroke="#2ad055" stroke-width="2.51" stroke-linecap="round"/>
<path d="M1090.56,220.51 Q1086.06,223.48 1086.49,228.86" fill="none" stroke="#86e89c" stroke-width="0.69" stroke-linecap="round" opacity="0.8"/>
<path d="M1083.56,239.60 Q1077.84,237.83 1075.22,243.21" fill="none" stroke="#0e9a38" stroke-width="4.33" stroke-linecap="round"/>
<path d="M1083.56,239.60 Q1077.84,237.83 1075.22,243.21" fill="none" stroke="#2ad055" stroke-width="2.51" stroke-linecap="round"/>
<path d="M1083.56,239.60 Q1077.84,237.83 1075.22,243.21" fill="none" stroke="#86e89c" stroke-width="0.69" stroke-linecap="round" opacity="0.8"/>
<path d="M1095.49,225.97 Q1093.09,229.22 1094.85,232.86" fill="none" stroke="#0e9a38" stroke-width="4.33" stroke-linecap="round"/>
<path d="M1095.49,225.97 Q1093.09,229.22 1094.85,232.86" fill="none" stroke="#2ad055" stroke-width="2.51" stroke-linecap="round"/>
<path d="M1095.49,225.97 Q1093.09,229.22 1094.85,232.86" fill="none" stroke="#86e89c" stroke-width="0.69" stroke-linecap="round" opacity="0.8"/>
<path d="M1097.08,224.71 Q1092.89,227.43 1091.86,232.31" fill="none" stroke="#0e9a38" stroke-width="4.33" stroke-linecap="round"/>
<path d="M1097.08,224.71 Q1092.89,227.43 1091.86,232.31" fill="none" stroke="#2ad055" stroke-width="2.51" stroke-linecap="round"/>
<path d="M1097.08,224.71 Q1092.89,227.43 1091.86,232.31" fill="none" stroke="#86e89c" stroke-width="0.69" stroke-linecap="round" opacity="0.8"/>
<path d="M1092.76,237.52 Q1092.25,242.03 1090.50,246.22" fill="none" stroke="#0e9a38" stroke-width="4.33" stroke-linecap="round"/>
<path d="M1092.76,237.52 Q1092.25,242.03 1090.50,246.22" fill="none" stroke="#2ad055" stroke-width="2.51" stroke-linecap="round"/>
<path d="M1092.76,237.52 Q1092.25,242.03 1090.50,246.22" fill="none" stroke="#86e89c" stroke-width="0.69" stroke-linecap="round" opacity="0.8"/>
<path d="M1080.19,219.81 Q1081.83,225.63 1076.35,228.19" fill="none" stroke="#0e9a38" stroke-width="4.33" stroke-linecap="round"/>
<path d="M1080.19,219.81 Q1081.83,225.63 1076.35,228.19" fill="none" stroke="#2ad055" stroke-width="2.51" stroke-linecap="round"/>
<path d="M1080.19,219.81 Q1081.83,225.63 1076.35,228.19" fill="none" stroke="#86e89c" stroke-width="0.69" stroke-linecap="round" opacity="0.8"/>
<path d="M1092.48,235.90 Q1089.79,238.54 1089.23,242.26" fill="none" stroke="#0e9a38" stroke-width="4.33" stroke-linecap="round"/>
<path d="M1092.48,235.90 Q1089.79,238.54 1089.23,242.26" fill="none" stroke="#2ad055" stroke-width="2.51" stroke-linecap="round"/>
<path d="M1092.48,235.90 Q1089.79,238.54 1089.23,242.26" fill="none" stroke="#86e89c" stroke-width="0.69" stroke-linecap="round" opacity="0.8"/>
<path d="M1084.20,226.41 Q1087.38,229.72 1084.84,233.55" fill="none" stroke="#0e9a38" stroke-width="4.33" stroke-linecap="round"/>
<path d="M1084.20,226.41 Q1087.38,229.72 1084.84,233.55" fill="none" stroke="#2ad055" stroke-width="2.51" stroke-linecap="round"/>
<path d="M1084.20,226.41 Q1087.38,229.72 1084.84,233.55" fill="none" stroke="#86e89c" stroke-width="0.69" stroke-linecap="round" opacity="0.8"/>
<path d="M1088.16,235.37 Q1092.71,234.79 1094.08,239.16" fill="none" stroke="#0e9a38" stroke-width="4.33" stroke-linecap="round"/>
<path d="M1088.16,235.37 Q1092.71,234.79 1094.08,239.16" fill="none" stroke="#2ad055" stroke-width="2.51" stroke-linecap="round"/>
<path d="M1088.16,235.37 Q1092.71,234.79 1094.08,239.16" fill="none" stroke="#86e89c" stroke-width="0.69" stroke-linecap="round" opacity="0.8"/>
<path d="M1080.08,229.53 Q1080.51,234.31 1077.10,237.68" fill="none" stroke="#0e9a38" stroke-width="4.33" stroke-linecap="round"/>
<path d="M1080.08,229.53 Q1080.51,234.31 1077.10,237.68" fill="none" stroke="#2ad055" stroke-width="2.51" stroke-linecap="round"/>
<path d="M1080.08,229.53 Q1080.51,234.31 1077.10,237.68" fill="none" stroke="#86e89c" stroke-width="0.69" stroke-linecap="round" opacity="0.8"/>
<path d="M1085.49,228.18 Q1087.14,231.54 1087.65,235.24" fill="none" stroke="#0e9a38" stroke-width="4.33" stroke-linecap="round"/>
<path d="M1085.49,228.18 Q1087.14,231.54 1087.65,235.24" fill="none" stroke="#2ad055" stroke-width="2.51" stroke-linecap="round"/>
<path d="M1085.49,228.18 Q1087.14,231.54 1087.65,235.24" fill="none" stroke="#86e89c" stroke-width="0.69" stroke-linecap="round" opacity="0.8"/>
<path d="M1093.82,236.68 Q1094.45,239.88 1096.28,242.57" fill="none" stroke="#0e9a38" stroke-width="4.33" stroke-linecap="round"/>
<path d="M1093.82,236.68 Q1094.45,239.88 1096.28,242.57" fill="none" stroke="#2ad055" stroke-width="2.51" stroke-linecap="round"/>
<path d="M1093.82,236.68 Q1094.45,239.88 1096.28,242.57" fill="none" stroke="#86e89c" stroke-width="0.69" stroke-linecap="round" opacity="0.8"/>
<path d="M1092.04,233.42 Q1091.00,238.93 1096.21,240.99" fill="none" stroke="#0e9a38" stroke-width="4.33" stroke-linecap="round"/>
<path d="M1092.04,233.42 Q1091.00,238.93 1096.21,240.99" fill="none" stroke="#2ad055" stroke-width="2.51" stroke-linecap="round"/>
<path d="M1092.04,233.42 Q1091.00,238.93 1096.21,240.99" fill="none" stroke="#86e89c" stroke-width="0.69" stroke-linecap="round" opacity="0.8"/>
<path d="M1093.46,221.90 Q1090.34,225.24 1086.06,226.83" fill="none" stroke="#0e9a38" stroke-width="4.33" stroke-linecap="round"/>
<path d="M1093.46,221.90 Q1090.34,225.24 1086.06,226.83" fill="none" stroke="#2ad055" stroke-width="2.51" stroke-linecap="round"/>
<path d="M1093.46,221.90 Q1090.34,225.24 1086.06,226.83" fill="none" stroke="#86e89c" stroke-width="0.69" stroke-linecap="round" opacity="0.8"/>
<path d="M1093.51,234.60 Q1088.29,238.74 1091.48,244.60" fill="none" stroke="#0e9a38" stroke-width="4.33" stroke-linecap="round"/>
<path d="M1093.51,234.60 Q1088.29,238.74 1091.48,244.60" fill="none" stroke="#2ad055" stroke-width="2.51" stroke-linecap="round"/>
<path d="M1093.51,234.60 Q1088.29,238.74 1091.48,244.60" fill="none" stroke="#86e89c" stroke-width="0.69" stroke-linecap="round" opacity="0.8"/>
<path d="M1083.36,226.09 Q1081.14,229.19 1077.47,228.14" fill="none" stroke="#0e9a38" stroke-width="4.33" stroke-linecap="round"/>
<path d="M1083.36,226.09 Q1081.14,229.19 1077.47,228.14" fill="none" stroke="#2ad055" stroke-width="2.51" stroke-linecap="round"/>
<path d="M1083.36,226.09 Q1081.14,229.19 1077.47,228.14" fill="none" stroke="#86e89c" stroke-width="0.69" stroke-linecap="round" opacity="0.8"/>
<path d="M1073.11,225.97 Q1075.77,230.68 1081.10,229.76" fill="none" stroke="#0e9a38" stroke-width="4.33" stroke-linecap="round"/>
<path d="M1073.11,225.97 Q1075.77,230.68 1081.10,229.76" fill="none" stroke="#2ad055" stroke-width="2.51" stroke-linecap="round"/>
<path d="M1073.11,225.97 Q1075.77,230.68 1081.10,229.76" fill="none" stroke="#86e89c" stroke-width="0.69" stroke-linecap="round" opacity="0.8"/>
<path d="M1077.50,235.39 Q1078.26,240.21 1083.14,240.24" fill="none" stroke="#0e9a38" stroke-width="4.33" stroke-linecap="round"/>
<path d="M1077.50,235.39 Q1078.26,240.21 1083.14,240.24" fill="none" stroke="#2ad055" stroke-width="2.51" stroke-linecap="round"/>
<path d="M1077.50,235.39 Q1078.26,240.21 1083.14,240.24" fill="none" stroke="#86e89c" stroke-width="0.69" stroke-linecap="round" opacity="0.8"/>
<path d="M1081.35,239.34 Q1077.67,242.32 1072.97,241.67" fill="none" stroke="#0e9a38" stroke-width="4.33" stroke-linecap="round"/>
<path d="M1081.35,239.34 Q1077.67,242.32 1072.97,241.67" fill="none" stroke="#2ad055" stroke-width="2.51" stroke-linecap="round"/>
<path d="M1081.35,239.34 Q1077.67,242.32 1072.97,241.67" fill="none" stroke="#86e89c" stroke-width="0.69" stroke-linecap="round" opacity="0.8"/>
<path d="M1094.26,227.18 Q1092.08,231.69 1096.25,234.47" fill="none" stroke="#0e9a38" stroke-width="4.33" stroke-linecap="round"/>
<path d="M1094.26,227.18 Q1092.08,231.69 1096.25,234.47" fill="none" stroke="#2ad055" stroke-width="2.51" stroke-linecap="round"/>
<path d="M1094.26,227.18 Q1092.08,231.69 1096.25,234.47" fill="none" stroke="#86e89c" stroke-width="0.69" stroke-linecap="round" opacity="0.8"/>
<path d="M1079.21,228.90 Q1078.72,232.31 1079.70,235.61" fill="none" stroke="#0e9a38" stroke-width="4.33" stroke-linecap="round"/>
<path d="M1079.21,228.90 Q1078.72,232.31 1079.70,235.61" fill="none" stroke="#2ad055" stroke-width="2.51" stroke-linecap="round"/>
<path d="M1079.21,228.90 Q1078.72,232.31 1079.70,235.61" fill="none" stroke="#86e89c" stroke-width="0.69" stroke-linecap="round" opacity="0.8"/>
<path d="M1083.54,231.25 Q1082.48,237.59 1076.06,237.37" fill="none" stroke="#0e9a38" stroke-width="4.33" stroke-linecap="round"/>
<path d="M1083.54,231.25 Q1082.48,237.59 1076.06,237.37" fill="none" stroke="#2ad055" stroke-width="2.51" stroke-linecap="round"/>
<path d="M1083.54,231.25 Q1082.48,237.59 1076.06,237.37" fill="none" stroke="#86e89c" stroke-width="0.69" stroke-linecap="round" opacity="0.8"/>
<path d="M1084.38,229.58 Q1080.18,232.66 1075.10,231.50" fill="none" stroke="#0e9a38" stroke-width="4.33" stroke-linecap="round"/>
<path d="M1084.38,229.58 Q1080.18,232.66 1075.10,231.50" fill="none" stroke="#2ad055" stroke-width="2.51" stroke-linecap="round"/>
<path d="M1084.38,229.58 Q1080.18,232.66 1075.10,231.50" fill="none" stroke="#86e89c" stroke-width="0.69" stroke-linecap="round" opacity="0.8"/>
<path d="M1089.46,236.77 Q1085.72,236.18 1082.02,237.04" fill="none" stroke="#0e9a38" stroke-width="4.33" stroke-linecap="round"/>
<path d="M1089.46,236.77 Q1085.72,236.18 1082.02,237.04" fill="none" stroke="#2ad055" stroke-width="2.51" stroke-linecap="round"/>
<path d="M1089.46,236.77 Q1085.72,236.18 1082.02,237.04" fill="none" stroke="#86e89c" stroke-width="0.69" stroke-linecap="round" opacity="0.8"/>
<path d="M1077.64,229.12 Q1079.18,234.56 1074.66,237.94" fill="none" stroke="#0e9a38" stroke-width="4.33" stroke-linecap="round"/>
<path d="M1077.64,229.12 Q1079.18,234.56 1074.66,237.94" fill="none" stroke="#2ad055" stroke-width="2.51" stroke-linecap="round"/>
<path d="M1077.64,229.12 Q1079.18,234.56 1074.66,237.94" fill="none" stroke="#86e89c" stroke-width="0.69" stroke-linecap="round" opacity="0.8"/>
<path d="M1087.16,221.10 Q1088.14,225.04 1086.36,228.69" fill="none" stroke="#0e9a38" stroke-width="4.33" stroke-linecap="round"/>
<path d="M1087.16,221.10 Q1088.14,225.04 1086.36,228.69" fill="none" stroke="#2ad055" stroke-width="2.51" stroke-linecap="round"/>
<path d="M1087.16,221.10 Q1088.14,225.04 1086.36,228.69" fill="none" stroke="#86e89c" stroke-width="0.69" stroke-linecap="round" opacity="0.8"/>
<path d="M1075.76,226.05 Q1077.04,230.59 1079.70,234.50" fill="none" stroke="#0e9a38" stroke-width="4.33" stroke-linecap="round"/>
<path d="M1075.76,226.05 Q1077.04,230.59 1079.70,234.50" fill="none" stroke="#2ad055" stroke-width="2.51" stroke-linecap="round"/>
<path d="M1075.76,226.05 Q1077.04,230.59 1079.70,234.50" fill="none" stroke="#86e89c" stroke-width="0.69" stroke-linecap="round" opacity="0.8"/>
<path d="M1091.87,228.39 Q1089.09,233.85 1093.26,238.33" fill="none" stroke="#0e9a38" stroke-width="4.33" stroke-linecap="round"/>
<path d="M1091.87,228.39 Q1089.09,233.85 1093.26,238.33" fill="none" stroke="#2ad055" stroke-width="2.51" stroke-linecap="round"/>
<path d="M1091.87,228.39 Q1089.09,233.85 1093.26,238.33" fill="none" stroke="#86e89c" stroke-width="0.69" stroke-linecap="round" opacity="0.8"/>
<path d="M1087.89,228.90 Q1084.47,231.05 1081.75,234.03" fill="none" stroke="#0e9a38" stroke-width="4.33" stroke-linecap="round"/>
<path d="M1087.89,228.90 Q1084.47,231.05 1081.75,234.03" fill="none" stroke="#2ad055" stroke-width="2.51" stroke-linecap="round"/>
<path d="M1087.89,228.90 Q1084.47,231.05 1081.75,234.03" fill="none" stroke="#86e89c" stroke-width="0.69" stroke-linecap="round" opacity="0.8"/>
<path d="M1083.37,217.07 Q1084.69,222.01 1083.94,227.07" fill="none" stroke="#0e9a38" stroke-width="4.33" stroke-linecap="round"/>
<path d="M1083.37,217.07 Q1084.69,222.01 1083.94,227.07" fill="none" stroke="#2ad055" stroke-width="2.51" stroke-linecap="round"/>
<path d="M1083.37,217.07 Q1084.69,222.01 1083.94,227.07" fill="none" stroke="#86e89c" stroke-width="0.69" stroke-linecap="round" opacity="0.8"/>
<path d="M1074.07,237.17 Q1075.83,241.13 1080.15,241.48" fill="none" stroke="#0e9a38" stroke-width="4.33" stroke-linecap="round"/>
<path d="M1074.07,237.17 Q1075.83,241.13 1080.15,241.48" fill="none" stroke="#2ad055" stroke-width="2.51" stroke-linecap="round"/>
<path d="M1074.07,237.17 Q1075.83,241.13 1080.15,241.48" fill="none" stroke="#86e89c" stroke-width="0.69" stroke-linecap="round" opacity="0.8"/>
<path d="M1099.32,233.33 Q1098.28,237.51 1094.71,239.91" fill="none" stroke="#0e9a38" stroke-width="4.33" stroke-linecap="round"/>
<path d="M1099.32,233.33 Q1098.28,237.51 1094.71,239.91" fill="none" stroke="#2ad055" stroke-width="2.51" stroke-linecap="round"/>
<path d="M1099.32,233.33 Q1098.28,237.51 1094.71,239.91" fill="none" stroke="#86e89c" stroke-width="0.69" stroke-linecap="round" opacity="0.8"/>
<path d="M1084.94,218.13 Q1088.49,220.24 1092.35,221.69" fill="none" stroke="#0e9a38" stroke-width="4.33" stroke-linecap="round"/>
<path d="M1084.94,218.13 Q1088.49,220.24 1092.35,221.69" fill="none" stroke="#2ad055" stroke-width="2.51" stroke-linecap="round"/>
<path d="M1084.94,218.13 Q1088.49,220.24 1092.35,221.69" fill="none" stroke="#86e89c" stroke-width="0.69" stroke-linecap="round" opacity="0.8"/>
<path d="M1075.10,230.00 Q1077.81,234.16 1082.77,234.02" fill="none" stroke="#0e9a38" stroke-width="4.33" stroke-linecap="round"/>
<path d="M1075.10,230.00 Q1077.81,234.16 1082.77,234.02" fill="none" stroke="#2ad055" stroke-width="2.51" stroke-linecap="round"/>
<path d="M1075.10,230.00 Q1077.81,234.16 1082.77,234.02" fill="none" stroke="#86e89c" stroke-width="0.69" stroke-linecap="round" opacity="0.8"/>
<path d="M1095.89,231.90 Q1091.13,233.28 1087.87,237.01" fill="none" stroke="#0e9a38" stroke-width="4.33" stroke-linecap="round"/>
<path d="M1095.89,231.90 Q1091.13,233.28 1087.87,237.01" fill="none" stroke="#2ad055" stroke-width="2.51" stroke-linecap="round"/>
<path d="M1095.89,231.90 Q1091.13,233.28 1087.87,237.01" fill="none" stroke="#86e89c" stroke-width="0.69" stroke-linecap="round" opacity="0.8"/>
<path d="M1102.22,233.29 Q1096.92,231.77 1091.87,233.99" fill="none" stroke="#0e9a38" stroke-width="4.33" stroke-linecap="round"/>
<path d="M1102.22,233.29 Q1096.92,231.77 1091.87,233.99" fill="none" stroke="#2ad055" stroke-width="2.51" stroke-linecap="round"/>
<path d="M1102.22,233.29 Q1096.92,231.77 1091.87,233.99" fill="none" stroke="#86e89c" stroke-width="0.69" stroke-linecap="round" opacity="0.8"/>
<path d="M1094.06,232.62 Q1095.19,238.25 1100.94,238.28" fill="none" stroke="#0e9a38" stroke-width="4.33" stroke-linecap="round"/>
<path d="M1094.06,232.62 Q1095.19,238.25 1100.94,238.28" fill="none" stroke="#2ad055" stroke-width="2.51" stroke-linecap="round"/>
<path d="M1094.06,232.62 Q1095.19,238.25 1100.94,238.28" fill="none" stroke="#86e89c" stroke-width="0.69" stroke-linecap="round" opacity="0.8"/>
<path d="M1082.16,223.34 Q1087.72,225.41 1088.25,231.32" fill="none" stroke="#0e9a38" stroke-width="4.33" stroke-linecap="round"/>
<path d="M1082.16,223.34 Q1087.72,225.41 1088.25,231.32" fill="none" stroke="#2ad055" stroke-width="2.51" stroke-linecap="round"/>
<path d="M1082.16,223.34 Q1087.72,225.41 1088.25,231.32" fill="none" stroke="#86e89c" stroke-width="0.69" stroke-linecap="round" opacity="0.8"/>
<path d="M1076.12,224.49 Q1081.73,223.46 1083.83,228.76" fill="none" stroke="#0e9a38" stroke-width="4.33" stroke-linecap="round"/>
<path d="M1076.12,224.49 Q1081.73,223.46 1083.83,228.76" fill="none" stroke="#2ad055" stroke-width="2.51" stroke-linecap="round"/>
<path d="M1076.12,224.49 Q1081.73,223.46 1083.83,228.76" fill="none" stroke="#86e89c" stroke-width="0.69" stroke-linecap="round" opacity="0.8"/>
<path d="M1089.28,236.13 Q1092.33,237.28 1095.58,237.58" fill="none" stroke="#0e9a38" stroke-width="4.33" stroke-linecap="round"/>
<path d="M1089.28,236.13 Q1092.33,237.28 1095.58,237.58" fill="none" stroke="#2ad055" stroke-width="2.51" stroke-linecap="round"/>
<path d="M1089.28,236.13 Q1092.33,237.28 1095.58,237.58" fill="none" stroke="#86e89c" stroke-width="0.69" stroke-linecap="round" opacity="0.8"/>
<circle cx="1085.75" cy="220.56" r="1.04" fill="#a8f0b4" opacity="0.85"/>
<circle cx="1091.59" cy="237.85" r="1.04" fill="#a8f0b4" opacity="0.85"/>
<circle cx="1082.60" cy="240.52" r="1.04" fill="#a8f0b4" opacity="0.85"/>
<circle cx="1074.59" cy="232.67" r="1.04" fill="#a8f0b4" opacity="0.85"/>
<circle cx="1084.29" cy="233.93" r="1.04" fill="#a8f0b4" opacity="0.85"/>
<circle cx="1084.77" cy="227.45" r="1.04" fill="#a8f0b4" opacity="0.85"/>
<circle cx="1080.46" cy="225.57" r="1.04" fill="#a8f0b4" opacity="0.85"/>
<circle cx="1093.93" cy="227.09" r="1.04" fill="#a8f0b4" opacity="0.85"/>
<circle cx="1081.79" cy="227.62" r="1.04" fill="#a8f0b4" opacity="0.85"/>
<circle cx="1080.51" cy="229.95" r="1.04" fill="#a8f0b4" opacity="0.85"/>
</g>
<path d="M1052.5,271.5 Q1054,278 1057.0,279.8 Q1060,281.5 1062.0,279.8 Q1064,278 1063.5,275.5 Q1063,273 1065.5,273.2 Q1068,273.5 1069.8,276.0 L1071.5,278.5" fill="none" stroke="#7a3fb0" stroke-width="1.9" stroke-linecap="round" stroke-linejoin="round"/>
<path d="M1071.5,278.5 Q1075,280 1076.5,278.2 Q1078,276.5 1080.0,278.0 Q1082,279.5 1084.0,278.8 Q1086,278 1087.8,277.2 L1089.5,276.5" fill="none" stroke="#e0262e" stroke-width="1.9" stroke-linecap="round" stroke-linejoin="round"/>
<path d="M1095,290 Q1098,285.5 1099.8,286.0 Q1101.5,286.5 1103.2,284.5 Q1105,282.5 1106.8,282.0 L1108.5,281.5" fill="none" stroke="#e0262e" stroke-width="1.9" stroke-linecap="round" stroke-linejoin="round"/>
<path d="M1108.5,281.5 Q1112,280 1111.2,277.8 Q1110.5,275.5 1109.0,274.8 Q1107.5,274 1109.2,272.8 Q1111,271.5 1113.5,271.2 Q1116,271 1117.8,272.2 L1119.5,273.5" fill="none" stroke="#7a3fb0" stroke-width="1.9" stroke-linecap="round" stroke-linejoin="round"/>
<path d="M1048,288.5 Q1053,286 1055.0,285.5 Q1057,285 1058.5,287.8 Q1060,290.5 1061.2,287.8 Q1062.5,285 1064.2,285.2 Q1066,285.5 1067.5,288.2 L1069,291" fill="none" stroke="#7a3fb0" stroke-width="1.9" stroke-linecap="round" stroke-linejoin="round"/>
<path d="M1069,291 Q1071,286.5 1072.5,289.0 Q1074,291.5 1075.5,289.5 Q1077,287.5 1078.5,290.0 Q1080,292.5 1081.5,290.2 Q1083,288 1084.8,290.0 Q1086.5,292 1086.8,289.8 L1087,287.5" fill="none" stroke="#e0262e" stroke-width="1.9" stroke-linecap="round" stroke-linejoin="round"/>
<path d="M1077,304 Q1080,300 1081.2,302.5 Q1082.5,305 1084.0,302.8 Q1085.5,300.5 1087.0,303.0 Q1088.5,305.5 1089.8,303.5 L1091,301.5" fill="none" stroke="#e0262e" stroke-width="1.9" stroke-linecap="round" stroke-linejoin="round"/>
<path d="M1091,301.5 Q1094,306.5 1095.5,303.5 Q1097,300.5 1098.8,304.0 Q1100.5,307.5 1102.2,305.2 Q1104,303 1106.0,303.8 L1108,304.5" fill="none" stroke="#7a3fb0" stroke-width="1.9" stroke-linecap="round" stroke-linejoin="round"/>
<text x="901.5" y="404.3" font-size="16.3" fill="#7442a8" font-weight="bold" text-anchor="end" textLength="99.8" lengthAdjust="spacingAndGlyphs">PEG Corona</text>
<text x="901.7" y="424.5" font-size="16.3" fill="#d62a2a" font-weight="bold" text-anchor="end" textLength="191.0" lengthAdjust="spacingAndGlyphs">Hard hydrophobic Shell</text>
<text x="901.5" y="445" font-size="16.3" fill="#2fb45a" font-weight="bold" text-anchor="end" textLength="157.5" lengthAdjust="spacingAndGlyphs">Water-Soluble Drug</text>
<text x="901.5" y="465.8" font-size="16.3" fill="#2a6fba" font-weight="bold" text-anchor="end" textLength="116.0" lengthAdjust="spacingAndGlyphs">Hydrogel Core</text>
<g>
<circle cx="969.4" cy="438.4" r="48" fill="url(#gGlowPurple)"/>
<path d="M1003.80,438.35 Q1006.93,434.44 1009.82,438.53 Q1012.71,442.62 1015.84,438.72" fill="none" stroke="#7a3fc0" stroke-width="1.9" stroke-linecap="round"/>
<path d="M1002.80,446.65 Q1003.77,451.56 1008.22,449.27 Q1012.67,446.98 1013.64,451.89" fill="none" stroke="#7a3fc0" stroke-width="1.9" stroke-linecap="round"/>
<path d="M999.15,455.66 Q999.62,460.59 1004.17,458.64 Q1008.73,456.69 1009.20,461.62" fill="none" stroke="#7a3fc0" stroke-width="1.9" stroke-linecap="round"/>
<path d="M993.53,462.92 Q991.97,467.68 996.97,467.86 Q1001.98,468.04 1000.42,472.80" fill="none" stroke="#7a3fc0" stroke-width="1.9" stroke-linecap="round"/>
<path d="M986.91,468.01 Q991.84,469.23 989.46,473.71 Q987.08,478.20 992.01,479.42" fill="none" stroke="#7a3fc0" stroke-width="1.9" stroke-linecap="round"/>
<path d="M978.18,471.66 Q974.71,475.15 979.13,477.32 Q983.55,479.49 980.08,482.98" fill="none" stroke="#7a3fc0" stroke-width="1.9" stroke-linecap="round"/>
<path d="M969.95,472.80 Q965.56,475.28 969.10,478.87 Q972.64,482.46 968.26,484.95" fill="none" stroke="#7a3fc0" stroke-width="1.9" stroke-linecap="round"/>
<path d="M960.60,471.66 Q955.82,473.37 958.64,477.58 Q961.46,481.80 956.69,483.51" fill="none" stroke="#7a3fc0" stroke-width="1.9" stroke-linecap="round"/>
<path d="M952.46,468.34 Q954.32,472.88 949.42,473.16 Q944.52,473.43 946.38,477.98" fill="none" stroke="#7a3fc0" stroke-width="1.9" stroke-linecap="round"/>
<path d="M944.71,462.35 Q939.75,461.24 939.85,466.32 Q939.95,471.41 934.99,470.29" fill="none" stroke="#7a3fc0" stroke-width="1.9" stroke-linecap="round"/>
<path d="M939.94,456.16 Q935.76,453.38 934.20,458.16 Q932.64,462.93 928.45,460.15" fill="none" stroke="#7a3fc0" stroke-width="1.9" stroke-linecap="round"/>
<path d="M936.14,447.17 Q933.55,451.54 929.94,447.97 Q926.33,444.40 923.74,448.76" fill="none" stroke="#7a3fc0" stroke-width="1.9" stroke-linecap="round"/>
<path d="M935.00,438.81 Q931.88,434.79 928.71,438.77 Q925.53,442.74 922.41,438.72" fill="none" stroke="#7a3fc0" stroke-width="1.9" stroke-linecap="round"/>
<path d="M936.01,430.14 Q931.68,432.80 930.13,427.97 Q928.58,423.13 924.25,425.79" fill="none" stroke="#7a3fc0" stroke-width="1.9" stroke-linecap="round"/>
<path d="M939.55,421.30 Q939.66,416.28 934.80,417.55 Q929.95,418.82 930.05,413.80" fill="none" stroke="#7a3fc0" stroke-width="1.9" stroke-linecap="round"/>
<path d="M945.15,414.00 Q940.09,413.92 941.42,409.03 Q942.75,404.14 937.69,404.06" fill="none" stroke="#7a3fc0" stroke-width="1.9" stroke-linecap="round"/>
<path d="M951.67,408.92 Q954.20,404.63 949.37,403.46 Q944.53,402.28 947.06,398.00" fill="none" stroke="#7a3fc0" stroke-width="1.9" stroke-linecap="round"/>
<path d="M960.19,405.26 Q964.11,402.30 960.02,399.58 Q955.94,396.86 959.86,393.90" fill="none" stroke="#7a3fc0" stroke-width="1.9" stroke-linecap="round"/>
<path d="M969.68,404.00 Q973.86,401.47 970.05,398.42 Q966.25,395.36 970.42,392.84" fill="none" stroke="#7a3fc0" stroke-width="1.9" stroke-linecap="round"/>
<path d="M977.69,405.01 Q982.56,403.77 980.05,399.41 Q977.55,395.06 982.41,393.81" fill="none" stroke="#7a3fc0" stroke-width="1.9" stroke-linecap="round"/>
<path d="M986.93,408.80 Q985.45,403.94 990.52,403.69 Q995.59,403.43 994.11,398.58" fill="none" stroke="#7a3fc0" stroke-width="1.9" stroke-linecap="round"/>
<path d="M993.81,414.16 Q993.57,409.17 998.42,410.36 Q1003.28,411.55 1003.04,406.56" fill="none" stroke="#7a3fc0" stroke-width="1.9" stroke-linecap="round"/>
<path d="M999.24,421.29 Q1003.58,423.99 1005.23,419.15 Q1006.88,414.32 1011.22,417.02" fill="none" stroke="#7a3fc0" stroke-width="1.9" stroke-linecap="round"/>
<path d="M1002.60,429.41 Q1006.30,432.85 1008.69,428.41 Q1011.07,423.96 1014.77,427.40" fill="none" stroke="#7a3fc0" stroke-width="1.9" stroke-linecap="round"/>
<circle cx="969.4" cy="438.4" r="34.9" fill="#ee1620"/>
<circle cx="969.4" cy="438.4" r="26.4" fill="url(#gBlue)" stroke="#2b62c4" stroke-width="1.5"/>
<circle cx="969.4" cy="438.4" r="21.90" fill="none" stroke="#c4e2ff" stroke-width="7.00" stroke-dasharray="1.3 2.6" opacity="0.8"/>
<circle cx="969.4" cy="438.4" r="15.12" fill="#1fb846"/>
<path d="M973.69,442.43 Q979.71,440.00 983.04,445.57" fill="none" stroke="#0e9a38" stroke-width="4.50" stroke-linecap="round"/>
<path d="M973.69,442.43 Q979.71,440.00 983.04,445.57" fill="none" stroke="#2ad055" stroke-width="2.61" stroke-linecap="round"/>
<path d="M973.69,442.43 Q979.71,440.00 983.04,445.57" fill="none" stroke="#86e89c" stroke-width="0.72" stroke-linecap="round" opacity="0.8"/>
<path d="M971.66,421.88 Q973.86,426.63 971.74,431.42" fill="none" stroke="#0e9a38" stroke-width="4.50" stroke-linecap="round"/>
<path d="M971.66,421.88 Q973.86,426.63 971.74,431.42" fill="none" stroke="#2ad055" stroke-width="2.61" stroke-linecap="round"/>
<path d="M971.66,421.88 Q973.86,426.63 971.74,431.42" fill="none" stroke="#86e89c" stroke-width="0.72" stroke-linecap="round" opacity="0.8"/>
<path d="M964.74,426.21 Q969.36,429.03 972.71,433.27" fill="none" stroke="#0e9a38" stroke-width="4.50" stroke-linecap="round"/>
<path d="M964.74,426.21 Q969.36,429.03 972.71,433.27" fill="none" stroke="#2ad055" stroke-width="2.61" stroke-linecap="round"/>
<path d="M964.74,426.21 Q969.36,429.03 972.71,433.27" fill="none" stroke="#86e89c" stroke-width="0.72" stroke-linecap="round" opacity="0.8"/>
<path d="M958.91,442.95 Q963.32,446.14 962.65,451.54" fill="none" stroke="#0e9a38" stroke-width="4.50" stroke-linecap="round"/>
<path d="M958.91,442.95 Q963.32,446.14 962.65,451.54" fill="none" stroke="#2ad055" stroke-width="2.61" stroke-linecap="round"/>
<path d="M958.91,442.95 Q963.32,446.14 962.65,451.54" fill="none" stroke="#86e89c" stroke-width="0.72" stroke-linecap="round" opacity="0.8"/>
<path d="M967.87,431.91 Q973.65,429.64 978.43,433.60" fill="none" stroke="#0e9a38" stroke-width="4.50" stroke-linecap="round"/>
<path d="M967.87,431.91 Q973.65,429.64 978.43,433.60" fill="none" stroke="#2ad055" stroke-width="2.61" stroke-linecap="round"/>
<path d="M967.87,431.91 Q973.65,429.64 978.43,433.60" fill="none" stroke="#86e89c" stroke-width="0.72" stroke-linecap="round" opacity="0.8"/>
<path d="M982.96,430.95 Q984.33,434.89 980.81,437.12" fill="none" stroke="#0e9a38" stroke-width="4.50" stroke-linecap="round"/>
<path d="M982.96,430.95 Q984.33,434.89 980.81,437.12" fill="none" stroke="#2ad055" stroke-width="2.61" stroke-linecap="round"/>
<path d="M982.96,430.95 Q984.33,434.89 980.81,437.12" fill="none" stroke="#86e89c" stroke-width="0.72" stroke-linecap="round" opacity="0.8"/>
<path d="M973.37,441.42 Q972.85,446.91 969.71,451.43" fill="none" stroke="#0e9a38" stroke-width="4.50" stroke-linecap="round"/>
<path d="M973.37,441.42 Q972.85,446.91 969.71,451.43" fill="none" stroke="#2ad055" stroke-width="2.61" stroke-linecap="round"/>
<path d="M973.37,441.42 Q972.85,446.91 969.71,451.43" fill="none" stroke="#86e89c" stroke-width="0.72" stroke-linecap="round" opacity="0.8"/>
<path d="M972.62,444.69 Q975.59,446.43 978.85,447.55" fill="none" stroke="#0e9a38" stroke-width="4.50" stroke-linecap="round"/>
<path d="M972.62,444.69 Q975.59,446.43 978.85,447.55" fill="none" stroke="#2ad055" stroke-width="2.61" stroke-linecap="round"/>
<path d="M972.62,444.69 Q975.59,446.43 978.85,447.55" fill="none" stroke="#86e89c" stroke-width="0.72" stroke-linecap="round" opacity="0.8"/>
<path d="M967.54,430.48 Q966.03,435.53 968.99,439.89" fill="none" stroke="#0e9a38" stroke-width="4.50" stroke-linecap="round"/>
<path d="M967.54,430.48 Q966.03,435.53 968.99,439.89" fill="none" stroke="#2ad055" stroke-width="2.61" stroke-linecap="round"/>
<path d="M967.54,430.48 Q966.03,435.53 968.99,439.89" fill="none" stroke="#86e89c" stroke-width="0.72" stroke-linecap="round" opacity="0.8"/>
<path d="M955.97,444.39 Q958.91,448.83 964.22,449.24" fill="none" stroke="#0e9a38" stroke-width="4.50" stroke-linecap="round"/>
<path d="M955.97,444.39 Q958.91,448.83 964.22,449.24" fill="none" stroke="#2ad055" stroke-width="2.61" stroke-linecap="round"/>
<path d="M955.97,444.39 Q958.91,448.83 964.22,449.24" fill="none" stroke="#86e89c" stroke-width="0.72" stroke-linecap="round" opacity="0.8"/>
<path d="M973.05,430.97 Q976.18,432.16 979.42,433.03" fill="none" stroke="#0e9a38" stroke-width="4.50" stroke-linecap="round"/>
<path d="M973.05,430.97 Q976.18,432.16 979.42,433.03" fill="none" stroke="#2ad055" stroke-width="2.61" stroke-linecap="round"/>
<path d="M973.05,430.97 Q976.18,432.16 979.42,433.03" fill="none" stroke="#86e89c" stroke-width="0.72" stroke-linecap="round" opacity="0.8"/>
<path d="M969.54,446.48 Q974.94,445.39 979.05,449.06" fill="none" stroke="#0e9a38" stroke-width="4.50" stroke-linecap="round"/>
<path d="M969.54,446.48 Q974.94,445.39 979.05,449.06" fill="none" stroke="#2ad055" stroke-width="2.61" stroke-linecap="round"/>
<path d="M969.54,446.48 Q974.94,445.39 979.05,449.06" fill="none" stroke="#86e89c" stroke-width="0.72" stroke-linecap="round" opacity="0.8"/>
<path d="M974.36,434.45 Q975.85,438.73 975.57,443.26" fill="none" stroke="#0e9a38" stroke-width="4.50" stroke-linecap="round"/>
<path d="M974.36,434.45 Q975.85,438.73 975.57,443.26" fill="none" stroke="#2ad055" stroke-width="2.61" stroke-linecap="round"/>
<path d="M974.36,434.45 Q975.85,438.73 975.57,443.26" fill="none" stroke="#86e89c" stroke-width="0.72" stroke-linecap="round" opacity="0.8"/>
<path d="M978.03,445.85 Q973.11,443.15 969.36,447.32" fill="none" stroke="#0e9a38" stroke-width="4.50" stroke-linecap="round"/>
<path d="M978.03,445.85 Q973.11,443.15 969.36,447.32" fill="none" stroke="#2ad055" stroke-width="2.61" stroke-linecap="round"/>
<path d="M978.03,445.85 Q973.11,443.15 969.36,447.32" fill="none" stroke="#86e89c" stroke-width="0.72" stroke-linecap="round" opacity="0.8"/>
<path d="M986.61,439.28 Q982.39,440.61 978.31,442.30" fill="none" stroke="#0e9a38" stroke-width="4.50" stroke-linecap="round"/>
<path d="M986.61,439.28 Q982.39,440.61 978.31,442.30" fill="none" stroke="#2ad055" stroke-width="2.61" stroke-linecap="round"/>
<path d="M986.61,439.28 Q982.39,440.61 978.31,442.30" fill="none" stroke="#86e89c" stroke-width="0.72" stroke-linecap="round" opacity="0.8"/>
<path d="M952.51,434.52 Q956.97,435.81 961.57,436.41" fill="none" stroke="#0e9a38" stroke-width="4.50" stroke-linecap="round"/>
<path d="M952.51,434.52 Q956.97,435.81 961.57,436.41" fill="none" stroke="#2ad055" stroke-width="2.61" stroke-linecap="round"/>
<path d="M952.51,434.52 Q956.97,435.81 961.57,436.41" fill="none" stroke="#86e89c" stroke-width="0.72" stroke-linecap="round" opacity="0.8"/>
<path d="M968.09,446.52 Q964.92,448.38 963.66,451.84" fill="none" stroke="#0e9a38" stroke-width="4.50" stroke-linecap="round"/>
<path d="M968.09,446.52 Q964.92,448.38 963.66,451.84" fill="none" stroke="#2ad055" stroke-width="2.61" stroke-linecap="round"/>
<path d="M968.09,446.52 Q964.92,448.38 963.66,451.84" fill="none" stroke="#86e89c" stroke-width="0.72" stroke-linecap="round" opacity="0.8"/>
<path d="M961.87,438.03 Q959.90,440.83 959.07,444.13" fill="none" stroke="#0e9a38" stroke-width="4.50" stroke-linecap="round"/>
<path d="M961.87,438.03 Q959.90,440.83 959.07,444.13" fill="none" stroke="#2ad055" stroke-width="2.61" stroke-linecap="round"/>
<path d="M961.87,438.03 Q959.90,440.83 959.07,444.13" fill="none" stroke="#86e89c" stroke-width="0.72" stroke-linecap="round" opacity="0.8"/>
<path d="M956.92,444.00 Q959.30,448.88 964.43,450.66" fill="none" stroke="#0e9a38" stroke-width="4.50" stroke-linecap="round"/>
<path d="M956.92,444.00 Q959.30,448.88 964.43,450.66" fill="none" stroke="#2ad055" stroke-width="2.61" stroke-linecap="round"/>
<path d="M956.92,444.00 Q959.30,448.88 964.43,450.66" fill="none" stroke="#86e89c" stroke-width="0.72" stroke-linecap="round" opacity="0.8"/>
<path d="M956.08,429.07 Q960.48,430.50 965.09,430.10" fill="none" stroke="#0e9a38" stroke-width="4.50" stroke-linecap="round"/>
<path d="M956.08,429.07 Q960.48,430.50 965.09,430.10" fill="none" stroke="#2ad055" stroke-width="2.61" stroke-linecap="round"/>
<path d="M956.08,429.07 Q960.48,430.50 965.09,430.10" fill="none" stroke="#86e89c" stroke-width="0.72" stroke-linecap="round" opacity="0.8"/>
<path d="M962.13,429.97 Q965.54,431.45 969.25,431.54" fill="none" stroke="#0e9a38" stroke-width="4.50" stroke-linecap="round"/>
<path d="M962.13,429.97 Q965.54,431.45 969.25,431.54" fill="none" stroke="#2ad055" stroke-width="2.61" stroke-linecap="round"/>
<path d="M962.13,429.97 Q965.54,431.45 969.25,431.54" fill="none" stroke="#86e89c" stroke-width="0.72" stroke-linecap="round" opacity="0.8"/>
<path d="M968.94,437.66 Q970.57,441.60 972.69,445.30" fill="none" stroke="#0e9a38" stroke-width="4.50" stroke-linecap="round"/>
<path d="M968.94,437.66 Q970.57,441.60 972.69,445.30" fill="none" stroke="#2ad055" stroke-width="2.61" stroke-linecap="round"/>
<path d="M968.94,437.66 Q970.57,441.60 972.69,445.30" fill="none" stroke="#86e89c" stroke-width="0.72" stroke-linecap="round" opacity="0.8"/>
<path d="M978.52,436.03 Q984.76,438.13 983.43,444.58" fill="none" stroke="#0e9a38" stroke-width="4.50" stroke-linecap="round"/>
<path d="M978.52,436.03 Q984.76,438.13 983.43,444.58" fill="none" stroke="#2ad055" stroke-width="2.61" stroke-linecap="round"/>
<path d="M978.52,436.03 Q984.76,438.13 983.43,444.58" fill="none" stroke="#86e89c" stroke-width="0.72" stroke-linecap="round" opacity="0.8"/>
<path d="M984.57,435.09 Q978.97,432.28 973.85,435.88" fill="none" stroke="#0e9a38" stroke-width="4.50" stroke-linecap="round"/>
<path d="M984.57,435.09 Q978.97,432.28 973.85,435.88" fill="none" stroke="#2ad055" stroke-width="2.61" stroke-linecap="round"/>
<path d="M984.57,435.09 Q978.97,432.28 973.85,435.88" fill="none" stroke="#86e89c" stroke-width="0.72" stroke-linecap="round" opacity="0.8"/>
<path d="M971.90,440.00 Q977.39,441.23 979.26,446.54" fill="none" stroke="#0e9a38" stroke-width="4.50" stroke-linecap="round"/>
<path d="M971.90,440.00 Q977.39,441.23 979.26,446.54" fill="none" stroke="#2ad055" stroke-width="2.61" stroke-linecap="round"/>
<path d="M971.90,440.00 Q977.39,441.23 979.26,446.54" fill="none" stroke="#86e89c" stroke-width="0.72" stroke-linecap="round" opacity="0.8"/>
<path d="M965.30,440.82 Q968.54,446.95 975.09,444.70" fill="none" stroke="#0e9a38" stroke-width="4.50" stroke-linecap="round"/>
<path d="M965.30,440.82 Q968.54,446.95 975.09,444.70" fill="none" stroke="#2ad055" stroke-width="2.61" stroke-linecap="round"/>
<path d="M965.30,440.82 Q968.54,446.95 975.09,444.70" fill="none" stroke="#86e89c" stroke-width="0.72" stroke-linecap="round" opacity="0.8"/>
<path d="M960.98,442.29 Q962.44,446.53 961.87,450.98" fill="none" stroke="#0e9a38" stroke-width="4.50" stroke-linecap="round"/>
<path d="M960.98,442.29 Q962.44,446.53 961.87,450.98" fill="none" stroke="#2ad055" stroke-width="2.61" stroke-linecap="round"/>
<path d="M960.98,442.29 Q962.44,446.53 961.87,450.98" fill="none" stroke="#86e89c" stroke-width="0.72" stroke-linecap="round" opacity="0.8"/>
<path d="M962.09,430.41 Q966.82,431.91 968.13,436.70" fill="none" stroke="#0e9a38" stroke-width="4.50" stroke-linecap="round"/>
<path d="M962.09,430.41 Q966.82,431.91 968.13,436.70" fill="none" stroke="#2ad055" stroke-width="2.61" stroke-linecap="round"/>
<path d="M962.09,430.41 Q966.82,431.91 968.13,436.70" fill="none" stroke="#86e89c" stroke-width="0.72" stroke-linecap="round" opacity="0.8"/>
<path d="M953.94,442.98 Q957.26,445.09 960.84,443.46" fill="none" stroke="#0e9a38" stroke-width="4.50" stroke-linecap="round"/>
<path d="M953.94,442.98 Q957.26,445.09 960.84,443.46" fill="none" stroke="#2ad055" stroke-width="2.61" stroke-linecap="round"/>
<path d="M953.94,442.98 Q957.26,445.09 960.84,443.46" fill="none" stroke="#86e89c" stroke-width="0.72" stroke-linecap="round" opacity="0.8"/>
<path d="M979.70,438.73 Q976.67,442.81 971.58,442.82" fill="none" stroke="#0e9a38" stroke-width="4.50" stroke-linecap="round"/>
<path d="M979.70,438.73 Q976.67,442.81 971.58,442.82" fill="none" stroke="#2ad055" stroke-width="2.61" stroke-linecap="round"/>
<path d="M979.70,438.73 Q976.67,442.81 971.58,442.82" fill="none" stroke="#86e89c" stroke-width="0.72" stroke-linecap="round" opacity="0.8"/>
<path d="M973.00,436.89 Q972.48,443.41 978.84,444.94" fill="none" stroke="#0e9a38" stroke-width="4.50" stroke-linecap="round"/>
<path d="M973.00,436.89 Q972.48,443.41 978.84,444.94" fill="none" stroke="#2ad055" stroke-width="2.61" stroke-linecap="round"/>
<path d="M973.00,436.89 Q972.48,443.41 978.84,444.94" fill="none" stroke="#86e89c" stroke-width="0.72" stroke-linecap="round" opacity="0.8"/>
<path d="M977.27,424.97 Q971.42,422.29 967.25,427.19" fill="none" stroke="#0e9a38" stroke-width="4.50" stroke-linecap="round"/>
<path d="M977.27,424.97 Q971.42,422.29 967.25,427.19" fill="none" stroke="#2ad055" stroke-width="2.61" stroke-linecap="round"/>
<path d="M977.27,424.97 Q971.42,422.29 967.25,427.19" fill="none" stroke="#86e89c" stroke-width="0.72" stroke-linecap="round" opacity="0.8"/>
<path d="M971.36,434.40 Q972.81,437.95 975.45,440.74" fill="none" stroke="#0e9a38" stroke-width="4.50" stroke-linecap="round"/>
<path d="M971.36,434.40 Q972.81,437.95 975.45,440.74" fill="none" stroke="#2ad055" stroke-width="2.61" stroke-linecap="round"/>
<path d="M971.36,434.40 Q972.81,437.95 975.45,440.74" fill="none" stroke="#86e89c" stroke-width="0.72" stroke-linecap="round" opacity="0.8"/>
<path d="M965.14,436.80 Q962.62,440.68 957.99,440.82" fill="none" stroke="#0e9a38" stroke-width="4.50" stroke-linecap="round"/>
<path d="M965.14,436.80 Q962.62,440.68 957.99,440.82" fill="none" stroke="#2ad055" stroke-width="2.61" stroke-linecap="round"/>
<path d="M965.14,436.80 Q962.62,440.68 957.99,440.82" fill="none" stroke="#86e89c" stroke-width="0.72" stroke-linecap="round" opacity="0.8"/>
<path d="M969.43,443.13 Q968.36,447.49 966.39,451.53" fill="none" stroke="#0e9a38" stroke-width="4.50" stroke-linecap="round"/>
<path d="M969.43,443.13 Q968.36,447.49 966.39,451.53" fill="none" stroke="#2ad055" stroke-width="2.61" stroke-linecap="round"/>
<path d="M969.43,443.13 Q968.36,447.49 966.39,451.53" fill="none" stroke="#86e89c" stroke-width="0.72" stroke-linecap="round" opacity="0.8"/>
<path d="M970.80,443.10 Q972.45,446.33 974.57,449.26" fill="none" stroke="#0e9a38" stroke-width="4.50" stroke-linecap="round"/>
<path d="M970.80,443.10 Q972.45,446.33 974.57,449.26" fill="none" stroke="#2ad055" stroke-width="2.61" stroke-linecap="round"/>
<path d="M970.80,443.10 Q972.45,446.33 974.57,449.26" fill="none" stroke="#86e89c" stroke-width="0.72" stroke-linecap="round" opacity="0.8"/>
<path d="M975.32,445.70 Q972.93,448.43 971.94,451.92" fill="none" stroke="#0e9a38" stroke-width="4.50" stroke-linecap="round"/>
<path d="M975.32,445.70 Q972.93,448.43 971.94,451.92" fill="none" stroke="#2ad055" stroke-width="2.61" stroke-linecap="round"/>
<path d="M975.32,445.70 Q972.93,448.43 971.94,451.92" fill="none" stroke="#86e89c" stroke-width="0.72" stroke-linecap="round" opacity="0.8"/>
<path d="M966.33,441.37 Q961.54,444.88 963.13,450.60" fill="none" stroke="#0e9a38" stroke-width="4.50" stroke-linecap="round"/>
<path d="M966.33,441.37 Q961.54,444.88 963.13,450.60" fill="none" stroke="#2ad055" stroke-width="2.61" stroke-linecap="round"/>
<path d="M966.33,441.37 Q961.54,444.88 963.13,450.60" fill="none" stroke="#86e89c" stroke-width="0.72" stroke-linecap="round" opacity="0.8"/>
<path d="M969.29,428.38 Q972.17,432.76 968.25,436.24" fill="none" stroke="#0e9a38" stroke-width="4.50" stroke-linecap="round"/>
<path d="M969.29,428.38 Q972.17,432.76 968.25,436.24" fill="none" stroke="#2ad055" stroke-width="2.61" stroke-linecap="round"/>
<path d="M969.29,428.38 Q972.17,432.76 968.25,436.24" fill="none" stroke="#86e89c" stroke-width="0.72" stroke-linecap="round" opacity="0.8"/>
<path d="M964.35,433.84 Q959.79,433.28 957.15,437.04" fill="none" stroke="#0e9a38" stroke-width="4.50" stroke-linecap="round"/>
<path d="M964.35,433.84 Q959.79,433.28 957.15,437.04" fill="none" stroke="#2ad055" stroke-width="2.61" stroke-linecap="round"/>
<path d="M964.35,433.84 Q959.79,433.28 957.15,437.04" fill="none" stroke="#86e89c" stroke-width="0.72" stroke-linecap="round" opacity="0.8"/>
<path d="M967.65,435.03 Q965.04,437.88 962.80,441.02" fill="none" stroke="#0e9a38" stroke-width="4.50" stroke-linecap="round"/>
<path d="M967.65,435.03 Q965.04,437.88 962.80,441.02" fill="none" stroke="#2ad055" stroke-width="2.61" stroke-linecap="round"/>
<path d="M967.65,435.03 Q965.04,437.88 962.80,441.02" fill="none" stroke="#86e89c" stroke-width="0.72" stroke-linecap="round" opacity="0.8"/>
<path d="M973.88,438.18 Q971.16,441.04 967.42,439.82" fill="none" stroke="#0e9a38" stroke-width="4.50" stroke-linecap="round"/>
<path d="M973.88,438.18 Q971.16,441.04 967.42,439.82" fill="none" stroke="#2ad055" stroke-width="2.61" stroke-linecap="round"/>
<path d="M973.88,438.18 Q971.16,441.04 967.42,439.82" fill="none" stroke="#86e89c" stroke-width="0.72" stroke-linecap="round" opacity="0.8"/>
<path d="M976.13,439.10 Q970.78,440.70 966.95,444.76" fill="none" stroke="#0e9a38" stroke-width="4.50" stroke-linecap="round"/>
<path d="M976.13,439.10 Q970.78,440.70 966.95,444.76" fill="none" stroke="#2ad055" stroke-width="2.61" stroke-linecap="round"/>
<path d="M976.13,439.10 Q970.78,440.70 966.95,444.76" fill="none" stroke="#86e89c" stroke-width="0.72" stroke-linecap="round" opacity="0.8"/>
<path d="M959.53,442.54 Q958.25,446.04 959.39,449.60" fill="none" stroke="#0e9a38" stroke-width="4.50" stroke-linecap="round"/>
<path d="M959.53,442.54 Q958.25,446.04 959.39,449.60" fill="none" stroke="#2ad055" stroke-width="2.61" stroke-linecap="round"/>
<path d="M959.53,442.54 Q958.25,446.04 959.39,449.60" fill="none" stroke="#86e89c" stroke-width="0.72" stroke-linecap="round" opacity="0.8"/>
<path d="M962.85,440.32 Q966.99,442.52 967.20,447.20" fill="none" stroke="#0e9a38" stroke-width="4.50" stroke-linecap="round"/>
<path d="M962.85,440.32 Q966.99,442.52 967.20,447.20" fill="none" stroke="#2ad055" stroke-width="2.61" stroke-linecap="round"/>
<path d="M962.85,440.32 Q966.99,442.52 967.20,447.20" fill="none" stroke="#86e89c" stroke-width="0.72" stroke-linecap="round" opacity="0.8"/>
<path d="M960.68,427.16 Q958.91,430.10 959.24,433.52" fill="none" stroke="#0e9a38" stroke-width="4.50" stroke-linecap="round"/>
<path d="M960.68,427.16 Q958.91,430.10 959.24,433.52" fill="none" stroke="#2ad055" stroke-width="2.61" stroke-linecap="round"/>
<path d="M960.68,427.16 Q958.91,430.10 959.24,433.52" fill="none" stroke="#86e89c" stroke-width="0.72" stroke-linecap="round" opacity="0.8"/>
<path d="M982.83,437.64 Q977.13,436.41 974.25,441.49" fill="none" stroke="#0e9a38" stroke-width="4.50" stroke-linecap="round"/>
<path d="M982.83,437.64 Q977.13,436.41 974.25,441.49" fill="none" stroke="#2ad055" stroke-width="2.61" stroke-linecap="round"/>
<path d="M982.83,437.64 Q977.13,436.41 974.25,441.49" fill="none" stroke="#86e89c" stroke-width="0.72" stroke-linecap="round" opacity="0.8"/>
<path d="M965.81,429.61 Q969.01,432.67 973.40,433.28" fill="none" stroke="#0e9a38" stroke-width="4.50" stroke-linecap="round"/>
<path d="M965.81,429.61 Q969.01,432.67 973.40,433.28" fill="none" stroke="#2ad055" stroke-width="2.61" stroke-linecap="round"/>
<path d="M965.81,429.61 Q969.01,432.67 973.40,433.28" fill="none" stroke="#86e89c" stroke-width="0.72" stroke-linecap="round" opacity="0.8"/>
<path d="M973.07,443.18 Q969.75,445.51 967.46,448.85" fill="none" stroke="#0e9a38" stroke-width="4.50" stroke-linecap="round"/>
<path d="M973.07,443.18 Q969.75,445.51 967.46,448.85" fill="none" stroke="#2ad055" stroke-width="2.61" stroke-linecap="round"/>
<path d="M973.07,443.18 Q969.75,445.51 967.46,448.85" fill="none" stroke="#86e89c" stroke-width="0.72" stroke-linecap="round" opacity="0.8"/>
<path d="M953.45,434.49 Q956.93,436.61 960.71,435.09" fill="none" stroke="#0e9a38" stroke-width="4.50" stroke-linecap="round"/>
<path d="M953.45,434.49 Q956.93,436.61 960.71,435.09" fill="none" stroke="#2ad055" stroke-width="2.61" stroke-linecap="round"/>
<path d="M953.45,434.49 Q956.93,436.61 960.71,435.09" fill="none" stroke="#86e89c" stroke-width="0.72" stroke-linecap="round" opacity="0.8"/>
<path d="M964.01,433.27 Q967.27,435.05 970.76,436.30" fill="none" stroke="#0e9a38" stroke-width="4.50" stroke-linecap="round"/>
<path d="M964.01,433.27 Q967.27,435.05 970.76,436.30" fill="none" stroke="#2ad055" stroke-width="2.61" stroke-linecap="round"/>
<path d="M964.01,433.27 Q967.27,435.05 970.76,436.30" fill="none" stroke="#86e89c" stroke-width="0.72" stroke-linecap="round" opacity="0.8"/>
<path d="M970.67,432.02 Q974.86,434.31 978.26,437.64" fill="none" stroke="#0e9a38" stroke-width="4.50" stroke-linecap="round"/>
<path d="M970.67,432.02 Q974.86,434.31 978.26,437.64" fill="none" stroke="#2ad055" stroke-width="2.61" stroke-linecap="round"/>
<path d="M970.67,432.02 Q974.86,434.31 978.26,437.64" fill="none" stroke="#86e89c" stroke-width="0.72" stroke-linecap="round" opacity="0.8"/>
<path d="M981.69,426.52 Q977.01,427.50 972.31,428.42" fill="none" stroke="#0e9a38" stroke-width="4.50" stroke-linecap="round"/>
<path d="M981.69,426.52 Q977.01,427.50 972.31,428.42" fill="none" stroke="#2ad055" stroke-width="2.61" stroke-linecap="round"/>
<path d="M981.69,426.52 Q977.01,427.50 972.31,428.42" fill="none" stroke="#86e89c" stroke-width="0.72" stroke-linecap="round" opacity="0.8"/>
<path d="M979.18,438.84 Q979.55,443.19 981.84,446.90" fill="none" stroke="#0e9a38" stroke-width="4.50" stroke-linecap="round"/>
<path d="M979.18,438.84 Q979.55,443.19 981.84,446.90" fill="none" stroke="#2ad055" stroke-width="2.61" stroke-linecap="round"/>
<path d="M979.18,438.84 Q979.55,443.19 981.84,446.90" fill="none" stroke="#86e89c" stroke-width="0.72" stroke-linecap="round" opacity="0.8"/>
<circle cx="978.56" cy="436.30" r="1.08" fill="#a8f0b4" opacity="0.85"/>
<circle cx="980.16" cy="432.30" r="1.08" fill="#a8f0b4" opacity="0.85"/>
<circle cx="975.86" cy="442.21" r="1.08" fill="#a8f0b4" opacity="0.85"/>
<circle cx="977.84" cy="431.29" r="1.08" fill="#a8f0b4" opacity="0.85"/>
<circle cx="974.74" cy="437.35" r="1.08" fill="#a8f0b4" opacity="0.85"/>
<circle cx="957.46" cy="436.03" r="1.08" fill="#a8f0b4" opacity="0.85"/>
<circle cx="959.40" cy="435.85" r="1.08" fill="#a8f0b4" opacity="0.85"/>
<circle cx="974.58" cy="437.58" r="1.08" fill="#a8f0b4" opacity="0.85"/>
<circle cx="980.32" cy="442.45" r="1.08" fill="#a8f0b4" opacity="0.85"/>
<circle cx="964.48" cy="435.65" r="1.08" fill="#a8f0b4" opacity="0.85"/>
</g>
<line x1="908" y1="400.6" x2="941.5" y2="400.6" stroke="#111" stroke-width="1.6" stroke-dasharray="1.6 1.5"/>
<path d="M940.0,397.8 L946.5,400.6 L940.0,403.40000000000003 L941.5,400.6 Z" fill="#111"/>
<line x1="908" y1="421.2" x2="941.5" y2="421.2" stroke="#111" stroke-width="1.6" stroke-dasharray="1.6 1.5"/>
<path d="M940.0,418.4 L946.5,421.2 L940.0,424.0 L941.5,421.2 Z" fill="#111"/>
<line x1="908" y1="442" x2="956.5" y2="442" stroke="#111" stroke-width="1.6" stroke-dasharray="1.6 1.5"/>
<path d="M955.0,439.2 L961.5,442 L955.0,444.8 L956.5,442 Z" fill="#111"/>
<line x1="908" y1="462.6" x2="956.5" y2="462.6" stroke="#111" stroke-width="1.6" stroke-dasharray="1.6 1.5"/>
<path d="M955.0,459.8 L961.5,462.6 L955.0,465.40000000000003 L956.5,462.6 Z" fill="#111"/>
<line x1="1028.8" y1="390" x2="1028.8" y2="486.8" stroke="#000" stroke-width="2.2"/>
<circle cx="1028.8" cy="390.2" r="4.2" fill="#000"/><circle cx="1028.8" cy="486.8" r="4.2" fill="#000"/>
<text x="1041.5" y="444.3" font-size="16" fill="#111" textLength="60.3" lengthAdjust="spacingAndGlyphs">~120nm</text>
<rect x="1317.7" y="185.9" width="56.1" height="295.1" fill="#c2c2c2" stroke="#000" stroke-width="1.8"/>
<path d="M1338.95,160.3 H1352.55 M1345.75,160.3 V210.3 M1338.95,210.3 H1352.55" fill="none" stroke="#111" stroke-width="1.4"/>
<rect x="1317.4" y="371.4" width="56.7" height="2.2" fill="#fff"/>
<rect x="1411.7" y="195.9" width="56.1" height="285.1" fill="url(#hFwd)" stroke="#000" stroke-width="1.8"/>
<path d="M1432.95,170.3 H1446.55 M1439.75,170.3 V220.3 M1432.95,220.3 H1446.55" fill="none" stroke="#111" stroke-width="1.4"/>
<rect x="1411.4" y="371.4" width="56.7" height="2.2" fill="#fff"/>
<rect x="1505.7" y="155.9" width="56.1" height="325.1" fill="url(#hBack)" stroke="#000" stroke-width="1.8"/>
<path d="M1526.95,130.3 H1540.55 M1533.75,130.3 V180.3 M1526.95,180.3 H1540.55" fill="none" stroke="#111" stroke-width="1.4"/>
<rect x="1505.4" y="371.4" width="56.7" height="2.2" fill="#fff"/>
<rect x="1599.7" y="335.9" width="56.1" height="145.1" fill="url(#hDots)" stroke="#000" stroke-width="1.8"/>
<path d="M1620.95,303.3 H1634.55 M1627.75,303.3 V335.3" fill="none" stroke="#111" stroke-width="1.4"/>
<rect x="1599.4" y="371.4" width="56.7" height="2.2" fill="#fff"/>
<rect x="1693.7" y="280.9" width="56.1" height="200.1" fill="url(#hHor)" stroke="#000" stroke-width="1.8"/>
<path d="M1714.95,248.3 H1728.55 M1721.75,248.3 V311.3 M1714.95,311.3 H1728.55" fill="none" stroke="#111" stroke-width="1.4"/>
<rect x="1694.6" y="370.3" width="54.3" height="4.5" fill="#fff"/>
<rect x="1787.7" y="155.9" width="56.1" height="325.1" fill="url(#hVer)" stroke="#000" stroke-width="1.8"/>
<path d="M1808.95,122.8 H1822.55 M1815.75,122.8 V187.3 M1808.95,187.3 H1822.55" fill="none" stroke="#111" stroke-width="1.4"/>
<rect x="1787.4" y="371.4" width="56.7" height="2.2" fill="#fff"/>
<rect x="1270.5" y="45.3" width="620.0999999999999" height="435.7" fill="none" stroke="#000" stroke-width="1.5"/>
<path d="M1270.5,365.3 h3.8 M1890.6,365.3 h-3.8 M1270.5,360.3 h3.8 M1890.6,360.3 h-3.8 M1270.5,355.3 h3.8 M1890.6,355.3 h-3.8 M1270.5,350.3 h3.8 M1890.6,350.3 h-3.8 M1270.5,345.3 h6.5 M1890.6,345.3 h-4.6 M1270.5,340.3 h3.8 M1890.6,340.3 h-3.8 M1270.5,335.3 h3.8 M1890.6,335.3 h-3.8 M1270.5,330.3 h3.8 M1890.6,330.3 h-3.8 M1270.5,325.3 h3.8 M1890.6,325.3 h-3.8 M1270.5,320.3 h3.8 M1890.6,320.3 h-3.8 M1270.5,315.3 h3.8 M1890.6,315.3 h-3.8 M1270.5,310.3 h3.8 M1890.6,310.3 h-3.8 M1270.5,305.3 h3.8 M1890.6,305.3 h-3.8 M1270.5,300.3 h3.8 M1890.6,300.3 h-3.8 M1270.5,295.3 h6.5 M1890.6,295.3 h-4.6 M1270.5,290.3 h3.8 M1890.6,290.3 h-3.8 M1270.5,285.3 h3.8 M1890.6,285.3 h-3.8 M1270.5,280.3 h3.8 M1890.6,280.3 h-3.8 M1270.5,275.3 h3.8 M1890.6,275.3 h-3.8 M1270.5,270.3 h3.8 M1890.6,270.3 h-3.8 M1270.5,265.3 h3.8 M1890.6,265.3 h-3.8 M1270.5,260.3 h3.8 M1890.6,260.3 h-3.8 M1270.5,255.3 h3.8 M1890.6,255.3 h-3.8 M1270.5,250.3 h3.8 M1890.6,250.3 h-3.8 M1270.5,245.3 h6.5 M1890.6,245.3 h-4.6 M1270.5,240.3 h3.8 M1890.6,240.3 h-3.8 M1270.5,235.3 h3.8 M1890.6,235.3 h-3.8 M1270.5,230.3 h3.8 M1890.6,230.3 h-3.8 M1270.5,225.3 h3.8 M1890.6,225.3 h-3.8 M1270.5,220.3 h3.8 M1890.6,220.3 h-3.8 M1270.5,215.3 h3.8 M1890.6,215.3 h-3.8 M1270.5,210.3 h3.8 M1890.6,210.3 h-3.8 M1270.5,205.3 h3.8 M1890.6,205.3 h-3.8 M1270.5,200.3 h3.8 M1890.6,200.3 h-3.8 M1270.5,195.3 h6.5 M1890.6,195.3 h-4.6 M1270.5,190.3 h3.8 M1890.6,190.3 h-3.8 M1270.5,185.3 h3.8 M1890.6,185.3 h-3.8 M1270.5,180.3 h3.8 M1890.6,180.3 h-3.8 M1270.5,175.3 h3.8 M1890.6,175.3 h-3.8 M1270.5,170.3 h3.8 M1890.6,170.3 h-3.8 M1270.5,165.3 h3.8 M1890.6,165.3 h-3.8 M1270.5,160.3 h3.8 M1890.6,160.3 h-3.8 M1270.5,155.3 h3.8 M1890.6,155.3 h-3.8 M1270.5,150.3 h3.8 M1890.6,150.3 h-3.8 M1270.5,145.3 h6.5 M1890.6,145.3 h-4.6 M1270.5,140.3 h3.8 M1890.6,140.3 h-3.8 M1270.5,135.3 h3.8 M1890.6,135.3 h-3.8 M1270.5,130.3 h3.8 M1890.6,130.3 h-3.8 M1270.5,125.3 h3.8 M1890.6,125.3 h-3.8 M1270.5,120.3 h3.8 M1890.6,120.3 h-3.8 M1270.5,115.3 h3.8 M1890.6,115.3 h-3.8 M1270.5,110.3 h3.8 M1890.6,110.3 h-3.8 M1270.5,105.3 h3.8 M1890.6,105.3 h-3.8 M1270.5,100.3 h3.8 M1890.6,100.3 h-3.8 M1270.5,95.3 h6.5 M1890.6,95.3 h-4.6 M1270.5,90.3 h3.8 M1890.6,90.3 h-3.8 M1270.5,85.3 h3.8 M1890.6,85.3 h-3.8 M1270.5,80.3 h3.8 M1890.6,80.3 h-3.8 M1270.5,75.3 h3.8 M1890.6,75.3 h-3.8 M1270.5,70.3 h3.8 M1890.6,70.3 h-3.8 M1270.5,65.3 h3.8 M1890.6,65.3 h-3.8 M1270.5,60.3 h3.8 M1890.6,60.3 h-3.8 M1270.5,55.3 h3.8 M1890.6,55.3 h-3.8 M1270.5,50.3 h3.8 M1890.6,50.3 h-3.8 M1270.5,395.8 h4.5 M1890.6,395.8 h-4.5 M1270.5,417 h4.5 M1890.6,417 h-4.5 M1270.5,438.4 h4.5 M1890.6,438.4 h-4.5 M1270.5,460 h4.5 M1890.6,460 h-4.5" fill="none" stroke="#000" stroke-width="1.4"/>
<path d="M1257.5,386.2 L1283.5,358.8" fill="none" stroke="#111" stroke-width="3.6" />
<path d="M1257.0,386.7 L1284.0,358.3" fill="none" stroke="#fff" stroke-width="1.1" />
<path d="M1877.6,386.2 L1903.6,358.8" fill="none" stroke="#111" stroke-width="3.6" />
<path d="M1877.1,386.7 L1904.1,358.3" fill="none" stroke="#fff" stroke-width="1.1" />
<text x="1259.2" y="353.1" font-size="20.5" fill="#111" text-anchor="end">40</text>
<text x="1259.2" y="303.1" font-size="20.5" fill="#111" text-anchor="end">50</text>
<text x="1259.2" y="253.10000000000002" font-size="20.5" fill="#111" text-anchor="end">60</text>
<text x="1259.2" y="203.10000000000002" font-size="20.5" fill="#111" text-anchor="end">70</text>
<text x="1259.2" y="153.10000000000002" font-size="20.5" fill="#111" text-anchor="end">80</text>
<text x="1259.2" y="103.1" font-size="20.5" fill="#111" text-anchor="end">90</text>
<text x="1259.2" y="53.099999999999994" font-size="20.5" fill="#111" text-anchor="end">100</text>
<text x="1259.6" y="489.6" font-size="20.5" fill="#111" text-anchor="end">0</text>
<text transform="translate(1215.8 448.6) rotate(-90)" font-size="24.4" fill="#111" textLength="382.5" lengthAdjust="spacingAndGlyphs">siRNA Encapsulation Efficiency (%)</text>
<text x="1302.8" y="508.0" font-size="23" fill="#111" textLength="64.8" lengthAdjust="spacingAndGlyphs">N/P=1</text>
<text x="1303.8" y="535.8" font-size="23" fill="#111" textLength="64.2" lengthAdjust="spacingAndGlyphs">citrate</text>
<text x="1387.8" y="506.3" font-size="23" fill="#111" textLength="85.2" lengthAdjust="spacingAndGlyphs">N/P=1.5</text>
<text x="1398.3" y="534.3" font-size="23" fill="#111" textLength="64.7" lengthAdjust="spacingAndGlyphs">citrate</text>
<text x="1502.1" y="506.7" font-size="23" fill="#111" textLength="65.8" lengthAdjust="spacingAndGlyphs">N/P=3</text>
<text x="1502.5" y="533.5" font-size="23" fill="#111" textLength="65.0" lengthAdjust="spacingAndGlyphs">citrate</text>
<text x="1595.1" y="506.3" font-size="23" fill="#111" textLength="63.2" lengthAdjust="spacingAndGlyphs">N/P=1</text>
<text x="1588.5" y="533.1" font-size="23" fill="#111" textLength="78.5" lengthAdjust="spacingAndGlyphs">acetate</text>
<text x="1686.6" y="505.2" font-size="23" fill="#111" textLength="85.9" lengthAdjust="spacingAndGlyphs">N/P=1.5</text>
<text x="1690.0" y="531.7" font-size="23" fill="#111" textLength="78.2" lengthAdjust="spacingAndGlyphs">acetate</text>
<text x="1796.5" y="503.9" font-size="23" fill="#111" textLength="65.8" lengthAdjust="spacingAndGlyphs">N/P=3</text>
<text x="1790.4" y="531.3" font-size="23" fill="#111" textLength="78.4" lengthAdjust="spacingAndGlyphs">acetate</text>
</svg>
</body>
</html>
